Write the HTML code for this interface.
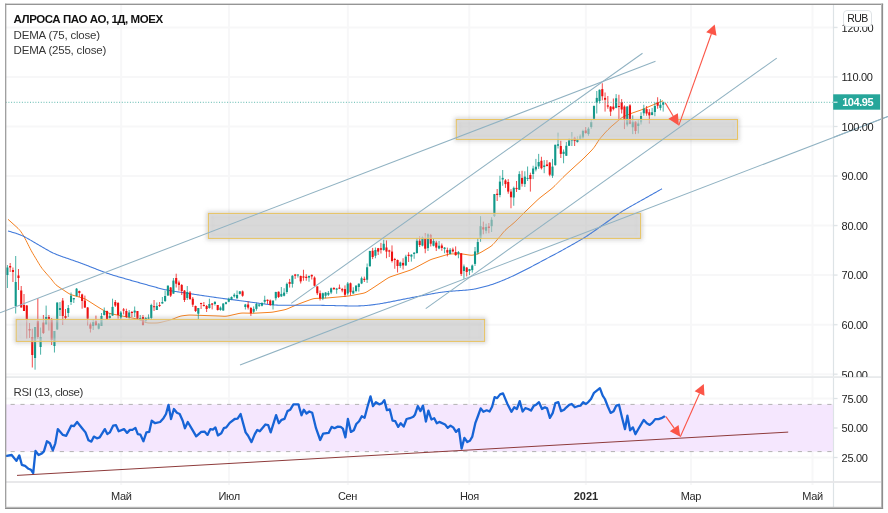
<!DOCTYPE html>
<html><head><meta charset="utf-8"><title>chart</title>
<style>
html,body{margin:0;padding:0;background:#fff;}
body{width:888px;height:513px;position:relative;overflow:hidden;font-family:"Liberation Sans",sans-serif;}
.t{position:absolute;white-space:nowrap;font-family:"Liberation Sans",sans-serif;font-size:11px;line-height:13px;color:#1c1c1c;}
.ax{letter-spacing:-0.3px;}
.tm{width:60px;text-align:center;font-size:11px;color:#2a2a2a;letter-spacing:-0.4px;}
.ttl{font-weight:bold;font-size:11.5px;color:#111;letter-spacing:-0.45px;}
.leg{font-size:11.5px;color:#363636;letter-spacing:-0.2px;}
.rub{position:absolute;left:843.3px;top:10.2px;width:26.4px;height:14.8px;border:0.8px solid #dfe3e6;border-radius:4px;background:#fff;font-family:"Liberation Sans",sans-serif;font-size:10.5px;line-height:15.6px;text-align:center;color:#222;letter-spacing:-0.55px;}
</style></head><body>
<svg width="888" height="513" viewBox="0 0 888 513" style="position:absolute;left:0;top:0">
<defs>
<clipPath id="cm"><rect x="5.7" y="4.3" width="827.8" height="373.3"/></clipPath>
<clipPath id="cr"><rect x="5.7" y="377.6" width="827.8" height="104.39999999999998"/></clipPath>
<filter id="sh" x="-5%" y="-40%" width="110%" height="180%"><feGaussianBlur stdDeviation="2.1"/></filter>
<filter id="sh2" x="-5%" y="-40%" width="110%" height="180%"><feGaussianBlur stdDeviation="0.8"/></filter>
</defs>
<rect x="0" y="0" width="888" height="513" fill="#fff"/>
<g stroke="#f7f7f8" stroke-width="2">
<line x1="5.7" x2="837.5" y1="27.4" y2="27.4"/>
<line x1="5.7" x2="837.5" y1="76.9" y2="76.9"/>
<line x1="5.7" x2="837.5" y1="126.5" y2="126.5"/>
<line x1="5.7" x2="837.5" y1="176.0" y2="176.0"/>
<line x1="5.7" x2="837.5" y1="225.6" y2="225.6"/>
<line x1="5.7" x2="837.5" y1="275.1" y2="275.1"/>
<line x1="5.7" x2="837.5" y1="324.7" y2="324.7"/>
<line x1="5.7" x2="837.5" y1="374.2" y2="374.2"/>
<line x1="5.7" x2="837.5" y1="398.5" y2="398.5"/>
<line x1="5.7" x2="837.5" y1="428.0" y2="428.0"/>
<line x1="5.7" x2="837.5" y1="457.5" y2="457.5"/>
<line x1="121.2" x2="121.2" y1="4.3" y2="485.0"/>
<line x1="229.0" x2="229.0" y1="4.3" y2="485.0"/>
<line x1="347.8" x2="347.8" y1="4.3" y2="485.0"/>
<line x1="469.3" x2="469.3" y1="4.3" y2="485.0"/>
<line x1="585.8" x2="585.8" y1="4.3" y2="485.0"/>
<line x1="690.9" x2="690.9" y1="4.3" y2="485.0"/>
<line x1="812.5" x2="812.5" y1="4.3" y2="485.0"/>
</g>
<rect x="5.7" y="404.4" width="827.8" height="47.2" fill="#f4e6fe" fill-opacity="0.94"/>
<g stroke="#b2b2b2" stroke-width="1" stroke-dasharray="4.2,5.64" stroke-dashoffset="4.98" fill="none"><line x1="5.7" x2="833.5" y1="404.4" y2="404.4"/><line x1="5.7" x2="833.5" y1="451.6" y2="451.6"/></g>
<polyline points="8.00,219.30 9.00,220.20 10.00,221.10 11.00,222.00 12.00,222.90 13.00,223.80 14.00,224.70 15.00,225.61 16.00,226.51 17.00,227.42 18.00,228.35 19.00,229.37 20.00,230.51 21.00,231.83 22.00,233.32 23.00,234.92 24.00,236.63 25.00,238.46 26.00,240.37 27.00,242.35 28.00,244.35 29.00,246.35 30.00,248.33 31.00,250.24 32.00,252.07 33.00,253.79 34.00,255.46 35.00,257.12 36.00,258.78 37.00,260.45 38.00,262.12 39.00,263.78 40.00,265.40 41.00,266.93 42.00,268.33 43.00,269.61 44.00,270.81 45.00,271.96 46.00,273.10 47.00,274.23 48.00,275.36 49.00,276.50 50.00,277.64 51.00,278.81 52.00,280.04 53.00,281.33 54.00,282.63 55.00,283.83 56.00,284.84 57.00,285.67 58.00,286.39 59.00,287.06 60.00,287.73 61.00,288.40 62.00,289.07 63.00,289.73 64.00,290.40 65.00,291.07 66.00,291.73 67.00,292.39 68.00,293.04 69.00,293.64 70.00,294.17 71.00,294.60 72.00,294.95 73.00,295.26 74.00,295.56 75.00,295.85 76.00,296.14 77.00,296.43 78.00,296.72 79.00,297.01 80.00,297.30 81.00,297.59 82.00,297.89 83.00,298.19 84.00,298.54 85.00,298.96 86.00,299.47 87.00,300.05 88.00,300.66 89.00,301.30 90.00,301.93 91.00,302.57 92.00,303.20 93.00,303.84 94.00,304.48 95.00,305.11 96.00,305.75 97.00,306.38 98.00,307.01 99.00,307.63 100.00,308.23 101.00,308.84 102.00,309.43 103.00,310.03 104.00,310.62 105.00,311.21 106.00,311.79 107.00,312.32 108.00,312.79 109.00,313.16 110.00,313.46 111.00,313.71 112.00,313.94 113.00,314.15 114.00,314.35 115.00,314.56 116.00,314.76 117.00,314.96 118.00,315.16 119.00,315.36 120.00,315.57 121.00,315.77 122.00,315.97 123.00,316.17 124.00,316.37 125.00,316.57 126.00,316.78 127.00,316.98 128.00,317.18 129.00,317.38 130.00,317.58 131.00,317.79 132.00,317.99 133.00,318.19 134.00,318.39 135.00,318.59 136.00,318.80 137.00,319.02 138.00,319.26 139.00,319.56 140.00,319.93 141.00,320.35 142.00,320.80 143.00,321.26 144.00,321.71 145.00,322.13 146.00,322.50 147.00,322.76 148.00,322.91 149.00,322.97 150.00,322.99 151.00,323.00 152.00,323.00 153.00,323.00 154.00,323.00 155.00,323.00 156.00,322.98 157.00,322.94 158.00,322.85 159.00,322.70 160.00,322.50 161.00,322.28 162.00,322.04 163.00,321.80 164.00,321.56 165.00,321.32 166.00,321.08 167.00,320.84 168.00,320.59 169.00,320.33 170.00,320.05 171.00,319.73 172.00,319.37 173.00,318.99 174.00,318.60 175.00,318.20 176.00,317.80 177.00,317.40 178.00,317.01 179.00,316.64 180.00,316.32 181.00,316.06 182.00,315.87 183.00,315.72 184.00,315.59 185.00,315.47 186.00,315.36 187.00,315.25 188.00,315.15 189.00,315.09 190.00,315.07 191.00,315.08 192.00,315.10 193.00,315.13 194.00,315.17 195.00,315.20 196.00,315.23 197.00,315.27 198.00,315.30 199.00,315.33 200.00,315.37 201.00,315.40 202.00,315.43 203.00,315.47 204.00,315.50 205.00,315.53 206.00,315.57 207.00,315.60 208.00,315.63 209.00,315.67 210.00,315.70 211.00,315.73 212.00,315.77 213.00,315.80 214.00,315.83 215.00,315.87 216.00,315.90 217.00,315.94 218.00,315.97 219.00,316.01 220.00,316.06 221.00,316.12 222.00,316.17 223.00,316.22 224.00,316.27 225.00,316.27 226.00,316.22 227.00,316.10 228.00,315.93 229.00,315.72 230.00,315.49 231.00,315.27 232.00,315.04 233.00,314.81 234.00,314.59 235.00,314.36 236.00,314.13 237.00,313.91 238.00,313.68 239.00,313.47 240.00,313.29 241.00,313.15 242.00,313.08 243.00,313.06 244.00,313.06 245.00,313.08 246.00,313.10 247.00,313.12 248.00,313.14 249.00,313.16 250.00,313.18 251.00,313.20 252.00,313.21 253.00,313.21 254.00,313.19 255.00,313.16 256.00,313.11 257.00,313.06 258.00,313.01 259.00,312.96 260.00,312.90 261.00,312.85 262.00,312.80 263.00,312.74 264.00,312.69 265.00,312.64 266.00,312.58 267.00,312.53 268.00,312.48 269.00,312.42 270.00,312.36 271.00,312.29 272.00,312.19 273.00,312.05 274.00,311.88 275.00,311.70 276.00,311.50 277.00,311.30 278.00,311.10 279.00,310.90 280.00,310.70 281.00,310.50 282.00,310.30 283.00,310.10 284.00,309.88 285.00,309.64 286.00,309.35 287.00,309.00 288.00,308.59 289.00,308.16 290.00,307.72 291.00,307.28 292.00,306.83 293.00,306.39 294.00,305.95 295.00,305.50 296.00,305.07 297.00,304.65 298.00,304.25 299.00,303.86 300.00,303.49 301.00,303.12 302.00,302.75 303.00,302.38 304.00,302.01 305.00,301.64 306.00,301.27 307.00,300.90 308.00,300.53 309.00,300.16 310.00,299.80 311.00,299.44 312.00,299.11 313.00,298.83 314.00,298.62 315.00,298.50 316.00,298.42 317.00,298.37 318.00,298.33 319.00,298.30 320.00,298.26 321.00,298.22 322.00,298.19 323.00,298.15 324.00,298.11 325.00,298.07 326.00,298.02 327.00,297.97 328.00,297.90 329.00,297.81 330.00,297.73 331.00,297.64 332.00,297.55 333.00,297.45 334.00,297.36 335.00,297.27 336.00,297.18 337.00,297.09 338.00,297.00 339.00,296.91 340.00,296.82 341.00,296.73 342.00,296.64 343.00,296.55 344.00,296.45 345.00,296.36 346.00,296.27 347.00,296.17 348.00,296.07 349.00,295.94 350.00,295.79 351.00,295.61 352.00,295.43 353.00,295.24 354.00,295.05 355.00,294.86 356.00,294.66 357.00,294.47 358.00,294.28 359.00,294.09 360.00,293.90 361.00,293.71 362.00,293.51 363.00,293.30 364.00,293.05 365.00,292.71 366.00,292.26 367.00,291.72 368.00,291.11 369.00,290.48 370.00,289.83 371.00,289.19 372.00,288.54 373.00,287.89 374.00,287.24 375.00,286.58 376.00,285.92 377.00,285.25 378.00,284.58 379.00,283.92 380.00,283.25 381.00,282.58 382.00,281.92 383.00,281.25 384.00,280.58 385.00,279.92 386.00,279.26 387.00,278.61 388.00,278.00 389.00,277.46 390.00,277.00 391.00,276.61 392.00,276.26 393.00,275.92 394.00,275.58 395.00,275.25 396.00,274.92 397.00,274.58 398.00,274.25 399.00,273.92 400.00,273.58 401.00,273.25 402.00,272.92 403.00,272.58 404.00,272.25 405.00,271.92 406.00,271.58 407.00,271.25 408.00,270.91 409.00,270.57 410.00,270.22 411.00,269.83 412.00,269.40 413.00,268.92 414.00,268.41 415.00,267.88 416.00,267.35 417.00,266.82 418.00,266.29 419.00,265.76 420.00,265.22 421.00,264.69 422.00,264.16 423.00,263.63 424.00,263.09 425.00,262.56 426.00,262.03 427.00,261.50 428.00,260.97 429.00,260.46 430.00,259.98 431.00,259.55 432.00,259.18 433.00,258.85 434.00,258.55 435.00,258.25 436.00,257.95 437.00,257.65 438.00,257.35 439.00,257.05 440.00,256.75 441.00,256.45 442.00,256.15 443.00,255.85 444.00,255.55 445.00,255.25 446.00,254.95 447.00,254.66 448.00,254.40 449.00,254.18 450.00,254.03 451.00,253.95 452.00,253.91 453.00,253.90 454.00,253.90 455.00,253.90 456.00,253.90 457.00,253.90 458.00,253.90 459.00,253.90 460.00,253.91 461.00,253.94 462.00,254.00 463.00,254.10 464.00,254.23 465.00,254.38 466.00,254.54 467.00,254.70 468.00,254.86 469.00,255.01 470.00,255.15 471.00,255.23 472.00,255.22 473.00,255.09 474.00,254.87 475.00,254.59 476.00,254.30 477.00,253.99 478.00,253.65 479.00,253.27 480.00,252.82 481.00,252.30 482.00,251.74 483.00,251.15 484.00,250.55 485.00,249.95 486.00,249.35 487.00,248.75 488.00,248.15 489.00,247.54 490.00,246.91 491.00,246.21 492.00,245.40 493.00,244.45 494.00,243.38 495.00,242.24 496.00,241.08 497.00,239.91 498.00,238.74 499.00,237.56 500.00,236.37 501.00,235.17 502.00,233.96 503.00,232.76 504.00,231.60 505.00,230.51 506.00,229.52 507.00,228.61 508.00,227.76 509.00,226.93 510.00,226.10 511.00,225.28 512.00,224.46 513.00,223.63 514.00,222.77 515.00,221.88 516.00,220.94 517.00,219.96 518.00,218.96 519.00,217.96 520.00,216.94 521.00,215.93 522.00,214.93 523.00,213.92 524.00,212.93 525.00,211.95 526.00,210.98 527.00,210.02 528.00,209.06 529.00,208.10 530.00,207.14 531.00,206.18 532.00,205.22 533.00,204.26 534.00,203.30 535.00,202.34 536.00,201.38 537.00,200.43 538.00,199.51 539.00,198.62 540.00,197.77 541.00,196.97 542.00,196.19 543.00,195.42 544.00,194.65 545.00,193.87 546.00,193.10 547.00,192.33 548.00,191.56 549.00,190.79 550.00,190.01 551.00,189.22 552.00,188.39 553.00,187.51 554.00,186.57 555.00,185.59 556.00,184.58 557.00,183.56 558.00,182.54 559.00,181.52 560.00,180.49 561.00,179.47 562.00,178.46 563.00,177.45 564.00,176.46 565.00,175.49 566.00,174.54 567.00,173.61 568.00,172.68 569.00,171.76 570.00,170.84 571.00,169.92 572.00,169.00 573.00,168.08 574.00,167.16 575.00,166.24 576.00,165.34 577.00,164.43 578.00,163.54 579.00,162.64 580.00,161.74 581.00,160.83 582.00,159.90 583.00,158.96 584.00,157.98 585.00,157.00 586.00,156.00 587.00,155.00 588.00,154.00 589.00,153.00 590.00,152.00 591.00,150.98 592.00,149.93 593.00,148.79 594.00,147.52 595.00,146.10 596.00,144.58 597.00,143.00 598.00,141.45 599.00,139.98 600.00,138.63 601.00,137.38 602.00,136.21 603.00,135.08 604.00,133.97 605.00,132.87 606.00,131.79 607.00,130.75 608.00,129.73 609.00,128.74 610.00,127.77 611.00,126.82 612.00,125.92 613.00,125.04 614.00,124.19 615.00,123.34 616.00,122.50 617.00,121.65 618.00,120.81 619.00,119.97 620.00,119.14 621.00,118.35 622.00,117.63 623.00,117.01 624.00,116.49 625.00,116.02 626.00,115.59 627.00,115.17 628.00,114.75 629.00,114.33 630.00,113.92 631.00,113.52 632.00,113.15 633.00,112.79 634.00,112.44 635.00,112.09 636.00,111.74 637.00,111.40 638.00,111.05 639.00,110.71 640.00,110.36 641.00,110.00 642.00,109.63 643.00,109.23 644.00,108.82 645.00,108.38 646.00,107.94 647.00,107.49 648.00,107.05 649.00,106.61 650.00,106.18 651.00,105.75 652.00,105.34 653.00,104.92 654.00,104.51 655.00,104.09 656.00,103.67 657.00,103.25 658.00,102.83 659.00,102.41 660.00,101.99 661.00,101.56 662.00,101.14 663.00,100.72" fill="none" stroke="#f5801f" stroke-width="1.0" stroke-linejoin="round"/>
<polyline points="8.00,231.00 9.00,231.28 10.00,231.57 11.00,231.86 12.00,232.15 13.00,232.44 14.00,232.74 15.00,233.04 16.00,233.36 17.00,233.69 18.00,234.03 19.00,234.39 20.00,234.78 21.00,235.19 22.00,235.62 23.00,236.08 24.00,236.56 25.00,237.06 26.00,237.59 27.00,238.13 28.00,238.69 29.00,239.25 30.00,239.83 31.00,240.41 32.00,241.00 33.00,241.59 34.00,242.18 35.00,242.77 36.00,243.36 37.00,243.95 38.00,244.54 39.00,245.12 40.00,245.71 41.00,246.30 42.00,246.88 43.00,247.47 44.00,248.05 45.00,248.63 46.00,249.20 47.00,249.77 48.00,250.33 49.00,250.88 50.00,251.42 51.00,251.94 52.00,252.44 53.00,252.93 54.00,253.39 55.00,253.84 56.00,254.27 57.00,254.68 58.00,255.08 59.00,255.46 60.00,255.83 61.00,256.19 62.00,256.55 63.00,256.90 64.00,257.25 65.00,257.59 66.00,257.94 67.00,258.28 68.00,258.62 69.00,258.97 70.00,259.31 71.00,259.65 72.00,260.00 73.00,260.34 74.00,260.69 75.00,261.04 76.00,261.39 77.00,261.74 78.00,262.10 79.00,262.46 80.00,262.82 81.00,263.19 82.00,263.56 83.00,263.93 84.00,264.31 85.00,264.70 86.00,265.08 87.00,265.47 88.00,265.86 89.00,266.25 90.00,266.64 91.00,267.03 92.00,267.42 93.00,267.82 94.00,268.21 95.00,268.60 96.00,268.99 97.00,269.39 98.00,269.78 99.00,270.17 100.00,270.56 101.00,270.95 102.00,271.33 103.00,271.71 104.00,272.09 105.00,272.46 106.00,272.83 107.00,273.18 108.00,273.53 109.00,273.87 110.00,274.20 111.00,274.52 112.00,274.84 113.00,275.15 114.00,275.45 115.00,275.75 116.00,276.05 117.00,276.34 118.00,276.63 119.00,276.93 120.00,277.22 121.00,277.51 122.00,277.79 123.00,278.08 124.00,278.37 125.00,278.66 126.00,278.95 127.00,279.24 128.00,279.52 129.00,279.81 130.00,280.10 131.00,280.38 132.00,280.66 133.00,280.95 134.00,281.23 135.00,281.51 136.00,281.79 137.00,282.07 138.00,282.35 139.00,282.63 140.00,282.91 141.00,283.19 142.00,283.47 143.00,283.75 144.00,284.02 145.00,284.30 146.00,284.58 147.00,284.86 148.00,285.14 149.00,285.41 150.00,285.69 151.00,285.97 152.00,286.25 153.00,286.52 154.00,286.80 155.00,287.08 156.00,287.35 157.00,287.63 158.00,287.90 159.00,288.16 160.00,288.43 161.00,288.68 162.00,288.94 163.00,289.18 164.00,289.41 165.00,289.64 166.00,289.85 167.00,290.05 168.00,290.25 169.00,290.43 170.00,290.61 171.00,290.78 172.00,290.94 173.00,291.10 174.00,291.26 175.00,291.41 176.00,291.57 177.00,291.72 178.00,291.87 179.00,292.02 180.00,292.17 181.00,292.32 182.00,292.47 183.00,292.62 184.00,292.77 185.00,292.92 186.00,293.07 187.00,293.21 188.00,293.36 189.00,293.51 190.00,293.66 191.00,293.81 192.00,293.96 193.00,294.11 194.00,294.26 195.00,294.41 196.00,294.56 197.00,294.71 198.00,294.86 199.00,295.01 200.00,295.16 201.00,295.31 202.00,295.46 203.00,295.61 204.00,295.76 205.00,295.91 206.00,296.06 207.00,296.21 208.00,296.35 209.00,296.50 210.00,296.65 211.00,296.80 212.00,296.95 213.00,297.10 214.00,297.24 215.00,297.39 216.00,297.53 217.00,297.67 218.00,297.81 219.00,297.95 220.00,298.09 221.00,298.22 222.00,298.35 223.00,298.49 224.00,298.61 225.00,298.74 226.00,298.87 227.00,299.00 228.00,299.12 229.00,299.25 230.00,299.37 231.00,299.50 232.00,299.63 233.00,299.75 234.00,299.88 235.00,300.00 236.00,300.13 237.00,300.26 238.00,300.39 239.00,300.52 240.00,300.65 241.00,300.78 242.00,300.91 243.00,301.05 244.00,301.18 245.00,301.32 246.00,301.46 247.00,301.59 248.00,301.73 249.00,301.87 250.00,302.01 251.00,302.15 252.00,302.29 253.00,302.43 254.00,302.57 255.00,302.71 256.00,302.85 257.00,302.99 258.00,303.12 259.00,303.26 260.00,303.40 261.00,303.53 262.00,303.66 263.00,303.79 264.00,303.91 265.00,304.04 266.00,304.15 267.00,304.27 268.00,304.38 269.00,304.48 270.00,304.58 271.00,304.67 272.00,304.76 273.00,304.85 274.00,304.93 275.00,305.00 276.00,305.06 277.00,305.12 278.00,305.16 279.00,305.20 280.00,305.23 281.00,305.25 282.00,305.27 283.00,305.27 284.00,305.27 285.00,305.27 286.00,305.26 287.00,305.26 288.00,305.24 289.00,305.23 290.00,305.22 291.00,305.21 292.00,305.19 293.00,305.18 294.00,305.17 295.00,305.16 296.00,305.16 297.00,305.15 298.00,305.15 299.00,305.15 300.00,305.15 301.00,305.15 302.00,305.16 303.00,305.17 304.00,305.17 305.00,305.18 306.00,305.19 307.00,305.20 308.00,305.21 309.00,305.22 310.00,305.23 311.00,305.24 312.00,305.25 313.00,305.26 314.00,305.27 315.00,305.28 316.00,305.29 317.00,305.30 318.00,305.31 319.00,305.32 320.00,305.33 321.00,305.34 322.00,305.36 323.00,305.37 324.00,305.38 325.00,305.40 326.00,305.42 327.00,305.44 328.00,305.45 329.00,305.48 330.00,305.50 331.00,305.52 332.00,305.55 333.00,305.57 334.00,305.60 335.00,305.62 336.00,305.65 337.00,305.68 338.00,305.70 339.00,305.73 340.00,305.75 341.00,305.78 342.00,305.80 343.00,305.82 344.00,305.84 345.00,305.86 346.00,305.87 347.00,305.89 348.00,305.90 349.00,305.91 350.00,305.92 351.00,305.93 352.00,305.93 353.00,305.94 354.00,305.94 355.00,305.94 356.00,305.93 357.00,305.93 358.00,305.91 359.00,305.89 360.00,305.87 361.00,305.83 362.00,305.79 363.00,305.73 364.00,305.67 365.00,305.60 366.00,305.52 367.00,305.43 368.00,305.34 369.00,305.24 370.00,305.13 371.00,305.01 372.00,304.89 373.00,304.76 374.00,304.63 375.00,304.49 376.00,304.35 377.00,304.20 378.00,304.05 379.00,303.90 380.00,303.74 381.00,303.58 382.00,303.41 383.00,303.24 384.00,303.07 385.00,302.89 386.00,302.71 387.00,302.52 388.00,302.33 389.00,302.14 390.00,301.94 391.00,301.74 392.00,301.54 393.00,301.33 394.00,301.13 395.00,300.93 396.00,300.73 397.00,300.52 398.00,300.32 399.00,300.12 400.00,299.92 401.00,299.72 402.00,299.53 403.00,299.33 404.00,299.13 405.00,298.94 406.00,298.74 407.00,298.54 408.00,298.35 409.00,298.15 410.00,297.96 411.00,297.76 412.00,297.57 413.00,297.37 414.00,297.18 415.00,296.98 416.00,296.79 417.00,296.60 418.00,296.40 419.00,296.21 420.00,296.02 421.00,295.83 422.00,295.64 423.00,295.45 424.00,295.27 425.00,295.08 426.00,294.89 427.00,294.71 428.00,294.52 429.00,294.34 430.00,294.15 431.00,293.97 432.00,293.79 433.00,293.61 434.00,293.43 435.00,293.26 436.00,293.08 437.00,292.92 438.00,292.76 439.00,292.60 440.00,292.45 441.00,292.31 442.00,292.17 443.00,292.04 444.00,291.92 445.00,291.80 446.00,291.69 447.00,291.58 448.00,291.48 449.00,291.38 450.00,291.29 451.00,291.21 452.00,291.12 453.00,291.05 454.00,290.97 455.00,290.90 456.00,290.83 457.00,290.76 458.00,290.69 459.00,290.62 460.00,290.56 461.00,290.49 462.00,290.42 463.00,290.35 464.00,290.28 465.00,290.20 466.00,290.12 467.00,290.04 468.00,289.94 469.00,289.84 470.00,289.72 471.00,289.59 472.00,289.44 473.00,289.28 474.00,289.11 475.00,288.91 476.00,288.71 477.00,288.49 478.00,288.27 479.00,288.03 480.00,287.79 481.00,287.54 482.00,287.29 483.00,287.03 484.00,286.77 485.00,286.51 486.00,286.24 487.00,285.96 488.00,285.68 489.00,285.39 490.00,285.10 491.00,284.79 492.00,284.47 493.00,284.14 494.00,283.79 495.00,283.44 496.00,283.07 497.00,282.70 498.00,282.32 499.00,281.93 500.00,281.53 501.00,281.13 502.00,280.73 503.00,280.32 504.00,279.91 505.00,279.49 506.00,279.07 507.00,278.64 508.00,278.20 509.00,277.76 510.00,277.31 511.00,276.86 512.00,276.39 513.00,275.92 514.00,275.44 515.00,274.96 516.00,274.47 517.00,273.98 518.00,273.49 519.00,272.99 520.00,272.49 521.00,272.00 522.00,271.49 523.00,270.99 524.00,270.49 525.00,269.99 526.00,269.48 527.00,268.97 528.00,268.46 529.00,267.95 530.00,267.43 531.00,266.91 532.00,266.39 533.00,265.86 534.00,265.34 535.00,264.81 536.00,264.28 537.00,263.74 538.00,263.21 539.00,262.68 540.00,262.14 541.00,261.61 542.00,261.07 543.00,260.54 544.00,260.01 545.00,259.47 546.00,258.94 547.00,258.41 548.00,257.89 549.00,257.36 550.00,256.83 551.00,256.31 552.00,255.78 553.00,255.26 554.00,254.73 555.00,254.20 556.00,253.66 557.00,253.13 558.00,252.59 559.00,252.04 560.00,251.50 561.00,250.95 562.00,250.39 563.00,249.84 564.00,249.28 565.00,248.72 566.00,248.16 567.00,247.60 568.00,247.04 569.00,246.48 570.00,245.92 571.00,245.36 572.00,244.79 573.00,244.23 574.00,243.67 575.00,243.11 576.00,242.54 577.00,241.97 578.00,241.40 579.00,240.83 580.00,240.25 581.00,239.66 582.00,239.07 583.00,238.46 584.00,237.85 585.00,237.22 586.00,236.59 587.00,235.94 588.00,235.28 589.00,234.62 590.00,233.94 591.00,233.26 592.00,232.57 593.00,231.88 594.00,231.19 595.00,230.49 596.00,229.79 597.00,229.08 598.00,228.38 599.00,227.68 600.00,226.97 601.00,226.26 602.00,225.55 603.00,224.84 604.00,224.13 605.00,223.41 606.00,222.70 607.00,221.99 608.00,221.27 609.00,220.56 610.00,219.84 611.00,219.13 612.00,218.42 613.00,217.70 614.00,216.99 615.00,216.29 616.00,215.59 617.00,214.89 618.00,214.21 619.00,213.53 620.00,212.86 621.00,212.20 622.00,211.56 623.00,210.93 624.00,210.31 625.00,209.70 626.00,209.10 627.00,208.51 628.00,207.93 629.00,207.36 630.00,206.78 631.00,206.22 632.00,205.65 633.00,205.09 634.00,204.53 635.00,203.97 636.00,203.41 637.00,202.85 638.00,202.28 639.00,201.72 640.00,201.16 641.00,200.60 642.00,200.04 643.00,199.48 644.00,198.92 645.00,198.36 646.00,197.80 647.00,197.24 648.00,196.68 649.00,196.12 650.00,195.55 651.00,194.99 652.00,194.43 653.00,193.86 654.00,193.30 655.00,192.74 656.00,192.17 657.00,191.61 658.00,191.04 659.00,190.48 660.00,189.91 661.00,189.35 662.00,188.78" fill="none" stroke="#4079da" stroke-width="1.05" stroke-linejoin="round"/>
<g clip-path="url(#cm)">
<line x1="7.40" x2="7.40" y1="265.0" y2="288.0" stroke="#11988a" stroke-width="0.9" stroke-opacity="0.85"/>
<rect x="6.35" y="267.5" width="2.1" height="7.50" fill="#11988a"/>
<line x1="10.17" x2="10.17" y1="263.0" y2="272.0" stroke="#ee1111" stroke-width="0.9" stroke-opacity="0.85"/>
<rect x="9.12" y="266.0" width="2.1" height="1.50" fill="#ee1111"/>
<line x1="12.93" x2="12.93" y1="267.5" y2="282.0" stroke="#ee1111" stroke-width="0.9" stroke-opacity="0.85"/>
<rect x="11.88" y="270.0" width="2.1" height="2.00" fill="#ee1111"/>
<line x1="15.70" x2="15.70" y1="256.0" y2="313.5" stroke="#11988a" stroke-width="0.9" stroke-opacity="0.85"/>
<rect x="14.65" y="282.0" width="2.1" height="24.00" fill="#11988a"/>
<line x1="18.47" x2="18.47" y1="269.0" y2="290.0" stroke="#ee1111" stroke-width="0.9" stroke-opacity="0.85"/>
<rect x="17.42" y="275.5" width="2.1" height="2.50" fill="#ee1111"/>
<line x1="21.23" x2="21.23" y1="286.0" y2="307.5" stroke="#ee1111" stroke-width="0.9" stroke-opacity="0.85"/>
<rect x="20.18" y="290.5" width="2.1" height="17.00" fill="#ee1111"/>
<line x1="24.00" x2="24.00" y1="294.0" y2="311.0" stroke="#ee1111" stroke-width="0.9" stroke-opacity="0.85"/>
<rect x="22.95" y="305.0" width="2.1" height="6.00" fill="#ee1111"/>
<line x1="26.77" x2="26.77" y1="305.0" y2="338.7" stroke="#ee1111" stroke-width="0.9" stroke-opacity="0.85"/>
<rect x="25.72" y="305.5" width="2.1" height="14.00" fill="#ee1111"/>
<line x1="29.54" x2="29.54" y1="323.0" y2="338.0" stroke="#ee1111" stroke-width="0.9" stroke-opacity="0.85"/>
<rect x="28.49" y="329.0" width="2.1" height="1.50" fill="#ee1111"/>
<line x1="32.30" x2="32.30" y1="328.7" y2="367.5" stroke="#ee1111" stroke-width="0.9" stroke-opacity="0.85"/>
<rect x="31.25" y="337.0" width="2.1" height="18.00" fill="#ee1111"/>
<line x1="35.07" x2="35.07" y1="327.0" y2="369.7" stroke="#11988a" stroke-width="0.9" stroke-opacity="0.85"/>
<rect x="34.02" y="327.0" width="2.1" height="31.00" fill="#11988a"/>
<line x1="37.84" x2="37.84" y1="298.0" y2="339.0" stroke="#ee1111" stroke-width="0.9" stroke-opacity="0.85"/>
<rect x="36.79" y="321.0" width="2.1" height="16.00" fill="#ee1111"/>
<line x1="40.60" x2="40.60" y1="327.5" y2="354.7" stroke="#11988a" stroke-width="0.9" stroke-opacity="0.85"/>
<rect x="39.55" y="337.0" width="2.1" height="10.00" fill="#11988a"/>
<line x1="43.37" x2="43.37" y1="315.0" y2="334.0" stroke="#ee1111" stroke-width="0.9" stroke-opacity="0.85"/>
<rect x="42.32" y="322.5" width="2.1" height="10.50" fill="#ee1111"/>
<line x1="46.14" x2="46.14" y1="305.6" y2="324.4" stroke="#11988a" stroke-width="0.9" stroke-opacity="0.85"/>
<rect x="45.09" y="317.0" width="2.1" height="7.40" fill="#11988a"/>
<line x1="48.90" x2="48.90" y1="315.0" y2="330.6" stroke="#ee1111" stroke-width="0.9" stroke-opacity="0.85"/>
<rect x="47.85" y="317.0" width="2.1" height="2.40" fill="#ee1111"/>
<line x1="51.67" x2="51.67" y1="318.0" y2="345.0" stroke="#ee1111" stroke-width="0.9" stroke-opacity="0.85"/>
<rect x="50.62" y="319.4" width="2.1" height="20.60" fill="#ee1111"/>
<line x1="54.44" x2="54.44" y1="331.0" y2="352.5" stroke="#11988a" stroke-width="0.9" stroke-opacity="0.85"/>
<rect x="53.39" y="331.0" width="2.1" height="15.00" fill="#11988a"/>
<line x1="57.21" x2="57.21" y1="302.5" y2="330.0" stroke="#11988a" stroke-width="0.9" stroke-opacity="0.85"/>
<rect x="56.16" y="302.5" width="2.1" height="26.90" fill="#11988a"/>
<line x1="59.97" x2="59.97" y1="302.0" y2="316.0" stroke="#11988a" stroke-width="0.9" stroke-opacity="0.85"/>
<rect x="58.92" y="308.0" width="2.1" height="2.00" fill="#11988a"/>
<line x1="62.74" x2="62.74" y1="298.0" y2="325.0" stroke="#ee1111" stroke-width="0.9" stroke-opacity="0.85"/>
<rect x="61.69" y="300.6" width="2.1" height="15.40" fill="#ee1111"/>
<line x1="65.51" x2="65.51" y1="309.0" y2="319.0" stroke="#ee1111" stroke-width="0.9" stroke-opacity="0.85"/>
<rect x="64.46" y="316.0" width="2.1" height="2.00" fill="#ee1111"/>
<line x1="68.27" x2="68.27" y1="305.0" y2="317.0" stroke="#11988a" stroke-width="0.9" stroke-opacity="0.85"/>
<rect x="67.22" y="308.0" width="2.1" height="5.00" fill="#11988a"/>
<line x1="71.04" x2="71.04" y1="292.5" y2="305.0" stroke="#11988a" stroke-width="0.9" stroke-opacity="0.85"/>
<rect x="69.99" y="295.6" width="2.1" height="6.40" fill="#11988a"/>
<line x1="73.81" x2="73.81" y1="298.0" y2="303.0" stroke="#11988a" stroke-width="0.9" stroke-opacity="0.85"/>
<rect x="72.76" y="298.0" width="2.1" height="1.40" fill="#11988a"/>
<line x1="76.58" x2="76.58" y1="288.0" y2="296.5" stroke="#11988a" stroke-width="0.9" stroke-opacity="0.85"/>
<rect x="75.53" y="288.7" width="2.1" height="7.30" fill="#11988a"/>
<line x1="79.34" x2="79.34" y1="290.6" y2="297.0" stroke="#ee1111" stroke-width="0.9" stroke-opacity="0.85"/>
<rect x="78.29" y="291.0" width="2.1" height="2.00" fill="#ee1111"/>
<line x1="82.11" x2="82.11" y1="293.7" y2="308.7" stroke="#ee1111" stroke-width="0.9" stroke-opacity="0.85"/>
<rect x="81.06" y="294.4" width="2.1" height="6.60" fill="#ee1111"/>
<line x1="84.88" x2="84.88" y1="295.6" y2="308.0" stroke="#ee1111" stroke-width="0.9" stroke-opacity="0.85"/>
<rect x="83.83" y="300.6" width="2.1" height="6.90" fill="#ee1111"/>
<line x1="87.64" x2="87.64" y1="307.0" y2="325.6" stroke="#ee1111" stroke-width="0.9" stroke-opacity="0.85"/>
<rect x="86.59" y="307.5" width="2.1" height="11.20" fill="#ee1111"/>
<line x1="90.41" x2="90.41" y1="322.5" y2="332.5" stroke="#ee1111" stroke-width="0.9" stroke-opacity="0.85"/>
<rect x="89.36" y="324.4" width="2.1" height="4.30" fill="#ee1111"/>
<line x1="93.18" x2="93.18" y1="319.0" y2="330.0" stroke="#11988a" stroke-width="0.9" stroke-opacity="0.85"/>
<rect x="92.13" y="322.0" width="2.1" height="4.00" fill="#11988a"/>
<line x1="95.94" x2="95.94" y1="315.6" y2="326.0" stroke="#ee1111" stroke-width="0.9" stroke-opacity="0.85"/>
<rect x="94.89" y="321.0" width="2.1" height="4.00" fill="#ee1111"/>
<line x1="98.71" x2="98.71" y1="323.0" y2="329.4" stroke="#11988a" stroke-width="0.9" stroke-opacity="0.85"/>
<rect x="97.66" y="323.7" width="2.1" height="5.00" fill="#11988a"/>
<line x1="101.48" x2="101.48" y1="313.0" y2="326.0" stroke="#11988a" stroke-width="0.9" stroke-opacity="0.85"/>
<rect x="100.43" y="316.0" width="2.1" height="10.00" fill="#11988a"/>
<line x1="104.25" x2="104.25" y1="307.5" y2="315.5" stroke="#11988a" stroke-width="0.9" stroke-opacity="0.85"/>
<rect x="103.20" y="310.6" width="2.1" height="4.40" fill="#11988a"/>
<line x1="107.01" x2="107.01" y1="310.6" y2="320.0" stroke="#ee1111" stroke-width="0.9" stroke-opacity="0.85"/>
<rect x="105.96" y="311.0" width="2.1" height="8.40" fill="#ee1111"/>
<line x1="109.78" x2="109.78" y1="313.0" y2="318.7" stroke="#11988a" stroke-width="0.9" stroke-opacity="0.85"/>
<rect x="108.73" y="316.0" width="2.1" height="2.00" fill="#11988a"/>
<line x1="112.55" x2="112.55" y1="298.7" y2="316.0" stroke="#11988a" stroke-width="0.9" stroke-opacity="0.85"/>
<rect x="111.50" y="306.9" width="2.1" height="8.70" fill="#11988a"/>
<line x1="115.31" x2="115.31" y1="300.0" y2="307.0" stroke="#ee1111" stroke-width="0.9" stroke-opacity="0.85"/>
<rect x="114.26" y="302.0" width="2.1" height="3.60" fill="#ee1111"/>
<line x1="118.08" x2="118.08" y1="302.0" y2="318.7" stroke="#ee1111" stroke-width="0.9" stroke-opacity="0.85"/>
<rect x="117.03" y="303.0" width="2.1" height="12.00" fill="#ee1111"/>
<line x1="120.85" x2="120.85" y1="311.0" y2="320.0" stroke="#11988a" stroke-width="0.9" stroke-opacity="0.85"/>
<rect x="119.80" y="312.5" width="2.1" height="5.00" fill="#11988a"/>
<line x1="123.61" x2="123.61" y1="308.0" y2="314.4" stroke="#ee1111" stroke-width="0.9" stroke-opacity="0.85"/>
<rect x="122.56" y="309.4" width="2.1" height="1.20" fill="#ee1111"/>
<line x1="126.38" x2="126.38" y1="308.7" y2="318.0" stroke="#ee1111" stroke-width="0.9" stroke-opacity="0.85"/>
<rect x="125.33" y="311.0" width="2.1" height="6.00" fill="#ee1111"/>
<line x1="129.15" x2="129.15" y1="310.0" y2="318.7" stroke="#11988a" stroke-width="0.9" stroke-opacity="0.85"/>
<rect x="128.10" y="312.5" width="2.1" height="4.50" fill="#11988a"/>
<line x1="131.91" x2="131.91" y1="311.0" y2="317.0" stroke="#ee1111" stroke-width="0.9" stroke-opacity="0.85"/>
<rect x="130.86" y="312.0" width="2.1" height="1.00" fill="#ee1111"/>
<line x1="134.68" x2="134.68" y1="306.5" y2="317.0" stroke="#11988a" stroke-width="0.9" stroke-opacity="0.85"/>
<rect x="133.63" y="310.6" width="2.1" height="1.90" fill="#11988a"/>
<line x1="137.45" x2="137.45" y1="311.0" y2="319.4" stroke="#ee1111" stroke-width="0.9" stroke-opacity="0.85"/>
<rect x="136.40" y="311.0" width="2.1" height="7.70" fill="#ee1111"/>
<line x1="140.22" x2="140.22" y1="315.0" y2="320.6" stroke="#11988a" stroke-width="0.9" stroke-opacity="0.85"/>
<rect x="139.17" y="318.0" width="2.1" height="2.00" fill="#11988a"/>
<line x1="142.98" x2="142.98" y1="315.0" y2="325.6" stroke="#ee1111" stroke-width="0.9" stroke-opacity="0.85"/>
<rect x="141.93" y="317.0" width="2.1" height="8.00" fill="#ee1111"/>
<line x1="145.75" x2="145.75" y1="317.0" y2="322.5" stroke="#11988a" stroke-width="0.9" stroke-opacity="0.85"/>
<rect x="144.70" y="318.0" width="2.1" height="3.00" fill="#11988a"/>
<line x1="148.52" x2="148.52" y1="314.4" y2="319.4" stroke="#11988a" stroke-width="0.9" stroke-opacity="0.85"/>
<rect x="147.47" y="317.5" width="2.1" height="1.20" fill="#11988a"/>
<line x1="151.28" x2="151.28" y1="303.7" y2="320.0" stroke="#11988a" stroke-width="0.9" stroke-opacity="0.85"/>
<rect x="150.23" y="305.0" width="2.1" height="13.00" fill="#11988a"/>
<line x1="154.05" x2="154.05" y1="300.0" y2="311.0" stroke="#ee1111" stroke-width="0.9" stroke-opacity="0.85"/>
<rect x="153.00" y="306.2" width="2.1" height="1.00" fill="#ee1111"/>
<line x1="156.82" x2="156.82" y1="302.5" y2="310.0" stroke="#11988a" stroke-width="0.9" stroke-opacity="0.85"/>
<rect x="155.77" y="306.0" width="2.1" height="4.00" fill="#11988a"/>
<line x1="159.59" x2="159.59" y1="302.0" y2="307.0" stroke="#ee1111" stroke-width="0.9" stroke-opacity="0.85"/>
<rect x="158.53" y="305.0" width="2.1" height="1.00" fill="#ee1111"/>
<line x1="162.35" x2="162.35" y1="297.0" y2="303.7" stroke="#11988a" stroke-width="0.9" stroke-opacity="0.85"/>
<rect x="161.30" y="302.0" width="2.1" height="1.50" fill="#11988a"/>
<line x1="165.12" x2="165.12" y1="290.6" y2="302.0" stroke="#11988a" stroke-width="0.9" stroke-opacity="0.85"/>
<rect x="164.07" y="296.0" width="2.1" height="5.00" fill="#11988a"/>
<line x1="167.89" x2="167.89" y1="285.6" y2="295.6" stroke="#11988a" stroke-width="0.9" stroke-opacity="0.85"/>
<rect x="166.84" y="285.6" width="2.1" height="10.00" fill="#11988a"/>
<line x1="170.65" x2="170.65" y1="287.0" y2="297.0" stroke="#ee1111" stroke-width="0.9" stroke-opacity="0.85"/>
<rect x="169.60" y="287.5" width="2.1" height="8.10" fill="#ee1111"/>
<line x1="173.42" x2="173.42" y1="278.0" y2="293.7" stroke="#11988a" stroke-width="0.9" stroke-opacity="0.85"/>
<rect x="172.37" y="280.6" width="2.1" height="13.10" fill="#11988a"/>
<line x1="176.19" x2="176.19" y1="273.7" y2="287.5" stroke="#ee1111" stroke-width="0.9" stroke-opacity="0.85"/>
<rect x="175.14" y="278.0" width="2.1" height="5.70" fill="#ee1111"/>
<line x1="178.95" x2="178.95" y1="280.6" y2="290.6" stroke="#ee1111" stroke-width="0.9" stroke-opacity="0.85"/>
<rect x="177.90" y="282.5" width="2.1" height="2.50" fill="#ee1111"/>
<line x1="181.72" x2="181.72" y1="284.0" y2="295.0" stroke="#ee1111" stroke-width="0.9" stroke-opacity="0.85"/>
<rect x="180.67" y="285.0" width="2.1" height="6.00" fill="#ee1111"/>
<line x1="184.49" x2="184.49" y1="290.0" y2="302.0" stroke="#ee1111" stroke-width="0.9" stroke-opacity="0.85"/>
<rect x="183.44" y="290.6" width="2.1" height="9.40" fill="#ee1111"/>
<line x1="187.25" x2="187.25" y1="286.0" y2="300.0" stroke="#11988a" stroke-width="0.9" stroke-opacity="0.85"/>
<rect x="186.20" y="292.0" width="2.1" height="6.00" fill="#11988a"/>
<line x1="190.02" x2="190.02" y1="291.0" y2="300.0" stroke="#ee1111" stroke-width="0.9" stroke-opacity="0.85"/>
<rect x="188.97" y="292.5" width="2.1" height="6.50" fill="#ee1111"/>
<line x1="192.79" x2="192.79" y1="297.0" y2="307.0" stroke="#ee1111" stroke-width="0.9" stroke-opacity="0.85"/>
<rect x="191.74" y="298.7" width="2.1" height="6.00" fill="#ee1111"/>
<line x1="195.56" x2="195.56" y1="305.6" y2="312.0" stroke="#ee1111" stroke-width="0.9" stroke-opacity="0.85"/>
<rect x="194.51" y="306.0" width="2.1" height="5.00" fill="#ee1111"/>
<line x1="198.32" x2="198.32" y1="308.0" y2="319.0" stroke="#11988a" stroke-width="0.9" stroke-opacity="0.85"/>
<rect x="197.27" y="308.0" width="2.1" height="5.70" fill="#11988a"/>
<line x1="201.09" x2="201.09" y1="302.7" y2="309.0" stroke="#ee1111" stroke-width="0.9" stroke-opacity="0.85"/>
<rect x="200.04" y="303.0" width="2.1" height="1.00" fill="#ee1111"/>
<line x1="203.86" x2="203.86" y1="302.0" y2="306.5" stroke="#ee1111" stroke-width="0.9" stroke-opacity="0.85"/>
<rect x="202.81" y="305.0" width="2.1" height="1.00" fill="#ee1111"/>
<line x1="206.62" x2="206.62" y1="305.0" y2="312.0" stroke="#ee1111" stroke-width="0.9" stroke-opacity="0.85"/>
<rect x="205.57" y="306.0" width="2.1" height="3.00" fill="#ee1111"/>
<line x1="209.39" x2="209.39" y1="298.7" y2="308.7" stroke="#11988a" stroke-width="0.9" stroke-opacity="0.85"/>
<rect x="208.34" y="304.0" width="2.1" height="4.00" fill="#11988a"/>
<line x1="212.16" x2="212.16" y1="303.0" y2="309.4" stroke="#ee1111" stroke-width="0.9" stroke-opacity="0.85"/>
<rect x="211.11" y="303.5" width="2.1" height="1.20" fill="#ee1111"/>
<line x1="214.93" x2="214.93" y1="301.0" y2="305.6" stroke="#11988a" stroke-width="0.9" stroke-opacity="0.85"/>
<rect x="213.88" y="302.0" width="2.1" height="2.00" fill="#11988a"/>
<line x1="217.69" x2="217.69" y1="305.0" y2="310.6" stroke="#ee1111" stroke-width="0.9" stroke-opacity="0.85"/>
<rect x="216.64" y="305.0" width="2.1" height="5.00" fill="#ee1111"/>
<line x1="220.46" x2="220.46" y1="306.4" y2="310.75" stroke="#11988a" stroke-width="0.9" stroke-opacity="0.85"/>
<rect x="219.41" y="307.6" width="2.1" height="2.40" fill="#11988a"/>
<line x1="223.23" x2="223.23" y1="303.25" y2="310.75" stroke="#11988a" stroke-width="0.9" stroke-opacity="0.85"/>
<rect x="222.18" y="303.5" width="2.1" height="7.00" fill="#11988a"/>
<line x1="225.99" x2="225.99" y1="301.75" y2="304.5" stroke="#11988a" stroke-width="0.9" stroke-opacity="0.85"/>
<rect x="224.94" y="302.25" width="2.1" height="1.65" fill="#11988a"/>
<line x1="228.76" x2="228.76" y1="297.6" y2="302.25" stroke="#11988a" stroke-width="0.9" stroke-opacity="0.85"/>
<rect x="227.71" y="298.9" width="2.1" height="2.85" fill="#11988a"/>
<line x1="231.53" x2="231.53" y1="296.4" y2="300.1" stroke="#11988a" stroke-width="0.9" stroke-opacity="0.85"/>
<rect x="230.48" y="297.0" width="2.1" height="2.50" fill="#11988a"/>
<line x1="234.29" x2="234.29" y1="293.25" y2="297.6" stroke="#11988a" stroke-width="0.9" stroke-opacity="0.85"/>
<rect x="233.24" y="294.75" width="2.1" height="1.65" fill="#11988a"/>
<line x1="237.06" x2="237.06" y1="290.5" y2="298.9" stroke="#11988a" stroke-width="0.9" stroke-opacity="0.85"/>
<rect x="236.01" y="295.0" width="2.1" height="3.25" fill="#11988a"/>
<line x1="239.83" x2="239.83" y1="291.0" y2="294.5" stroke="#11988a" stroke-width="0.9" stroke-opacity="0.85"/>
<rect x="238.78" y="291.4" width="2.1" height="2.50" fill="#11988a"/>
<line x1="242.59" x2="242.59" y1="290.5" y2="296.75" stroke="#ee1111" stroke-width="0.9" stroke-opacity="0.85"/>
<rect x="241.54" y="291.4" width="2.1" height="4.35" fill="#ee1111"/>
<line x1="245.36" x2="245.36" y1="303.9" y2="309.5" stroke="#11988a" stroke-width="0.9" stroke-opacity="0.85"/>
<rect x="244.31" y="304.5" width="2.1" height="2.50" fill="#11988a"/>
<line x1="248.13" x2="248.13" y1="301.4" y2="309.5" stroke="#ee1111" stroke-width="0.9" stroke-opacity="0.85"/>
<rect x="247.08" y="304.5" width="2.1" height="3.10" fill="#ee1111"/>
<line x1="250.90" x2="250.90" y1="307.0" y2="316.0" stroke="#ee1111" stroke-width="0.9" stroke-opacity="0.85"/>
<rect x="249.85" y="308.0" width="2.1" height="5.25" fill="#ee1111"/>
<line x1="253.66" x2="253.66" y1="306.4" y2="313.25" stroke="#11988a" stroke-width="0.9" stroke-opacity="0.85"/>
<rect x="252.61" y="308.9" width="2.1" height="2.85" fill="#11988a"/>
<line x1="256.43" x2="256.43" y1="302.6" y2="310.75" stroke="#11988a" stroke-width="0.9" stroke-opacity="0.85"/>
<rect x="255.38" y="303.9" width="2.1" height="5.00" fill="#11988a"/>
<line x1="259.20" x2="259.20" y1="303.9" y2="307.0" stroke="#11988a" stroke-width="0.9" stroke-opacity="0.85"/>
<rect x="258.15" y="304.5" width="2.1" height="1.25" fill="#11988a"/>
<line x1="261.96" x2="261.96" y1="302.25" y2="306.4" stroke="#11988a" stroke-width="0.9" stroke-opacity="0.85"/>
<rect x="260.91" y="303.0" width="2.1" height="2.75" fill="#11988a"/>
<line x1="264.73" x2="264.73" y1="295.75" y2="303.9" stroke="#11988a" stroke-width="0.9" stroke-opacity="0.85"/>
<rect x="263.68" y="299.9" width="2.1" height="1.85" fill="#11988a"/>
<line x1="267.50" x2="267.50" y1="299.5" y2="303.9" stroke="#ee1111" stroke-width="0.9" stroke-opacity="0.85"/>
<rect x="266.45" y="299.75" width="2.1" height="1.25" fill="#ee1111"/>
<line x1="270.26" x2="270.26" y1="299.5" y2="305.75" stroke="#ee1111" stroke-width="0.9" stroke-opacity="0.85"/>
<rect x="269.21" y="300.5" width="2.1" height="4.60" fill="#ee1111"/>
<line x1="273.03" x2="273.03" y1="300.0" y2="309.5" stroke="#11988a" stroke-width="0.9" stroke-opacity="0.85"/>
<rect x="271.98" y="300.75" width="2.1" height="4.35" fill="#11988a"/>
<line x1="275.80" x2="275.80" y1="291.75" y2="300.5" stroke="#11988a" stroke-width="0.9" stroke-opacity="0.85"/>
<rect x="274.75" y="292.0" width="2.1" height="6.25" fill="#11988a"/>
<line x1="278.57" x2="278.57" y1="291.4" y2="298.0" stroke="#ee1111" stroke-width="0.9" stroke-opacity="0.85"/>
<rect x="277.52" y="291.75" width="2.1" height="5.25" fill="#ee1111"/>
<line x1="281.33" x2="281.33" y1="287.0" y2="297.0" stroke="#11988a" stroke-width="0.9" stroke-opacity="0.85"/>
<rect x="280.28" y="293.9" width="2.1" height="2.50" fill="#11988a"/>
<line x1="284.10" x2="284.10" y1="288.25" y2="296.4" stroke="#11988a" stroke-width="0.9" stroke-opacity="0.85"/>
<rect x="283.05" y="292.6" width="2.1" height="3.15" fill="#11988a"/>
<line x1="286.87" x2="286.87" y1="282.6" y2="293.9" stroke="#11988a" stroke-width="0.9" stroke-opacity="0.85"/>
<rect x="285.82" y="283.9" width="2.1" height="8.10" fill="#11988a"/>
<line x1="289.63" x2="289.63" y1="278.9" y2="287.6" stroke="#ee1111" stroke-width="0.9" stroke-opacity="0.85"/>
<rect x="288.58" y="282.0" width="2.1" height="1.90" fill="#ee1111"/>
<line x1="292.40" x2="292.40" y1="275.1" y2="287.6" stroke="#11988a" stroke-width="0.9" stroke-opacity="0.85"/>
<rect x="291.35" y="275.75" width="2.1" height="8.15" fill="#11988a"/>
<line x1="295.17" x2="295.17" y1="273.9" y2="278.9" stroke="#ee1111" stroke-width="0.9" stroke-opacity="0.85"/>
<rect x="294.12" y="274.5" width="2.1" height="1.25" fill="#ee1111"/>
<line x1="297.93" x2="297.93" y1="274.5" y2="277.6" stroke="#11988a" stroke-width="0.9" stroke-opacity="0.85"/>
<rect x="296.88" y="274.5" width="2.1" height="1.00" fill="#11988a"/>
<line x1="300.70" x2="300.70" y1="275.5" y2="283.5" stroke="#ee1111" stroke-width="0.9" stroke-opacity="0.85"/>
<rect x="299.65" y="276.0" width="2.1" height="5.40" fill="#ee1111"/>
<line x1="303.47" x2="303.47" y1="269.75" y2="280.75" stroke="#ee1111" stroke-width="0.9" stroke-opacity="0.85"/>
<rect x="302.42" y="276.4" width="2.1" height="1.20" fill="#ee1111"/>
<line x1="306.24" x2="306.24" y1="274.25" y2="280.75" stroke="#ee1111" stroke-width="0.9" stroke-opacity="0.85"/>
<rect x="305.19" y="276.75" width="2.1" height="1.25" fill="#ee1111"/>
<line x1="309.00" x2="309.00" y1="275.5" y2="281.75" stroke="#11988a" stroke-width="0.9" stroke-opacity="0.85"/>
<rect x="307.95" y="276.0" width="2.1" height="1.60" fill="#11988a"/>
<line x1="311.77" x2="311.77" y1="274.5" y2="279.5" stroke="#ee1111" stroke-width="0.9" stroke-opacity="0.85"/>
<rect x="310.72" y="274.9" width="2.1" height="1.50" fill="#ee1111"/>
<line x1="314.54" x2="314.54" y1="276.4" y2="286.4" stroke="#ee1111" stroke-width="0.9" stroke-opacity="0.85"/>
<rect x="313.49" y="277.6" width="2.1" height="8.15" fill="#ee1111"/>
<line x1="317.30" x2="317.30" y1="286.4" y2="295.1" stroke="#ee1111" stroke-width="0.9" stroke-opacity="0.85"/>
<rect x="316.25" y="286.4" width="2.1" height="6.85" fill="#ee1111"/>
<line x1="320.07" x2="320.07" y1="290.5" y2="300.5" stroke="#ee1111" stroke-width="0.9" stroke-opacity="0.85"/>
<rect x="319.02" y="293.25" width="2.1" height="5.25" fill="#ee1111"/>
<line x1="322.84" x2="322.84" y1="292.6" y2="300.1" stroke="#11988a" stroke-width="0.9" stroke-opacity="0.85"/>
<rect x="321.79" y="293.25" width="2.1" height="5.25" fill="#11988a"/>
<line x1="325.60" x2="325.60" y1="292.0" y2="298.25" stroke="#11988a" stroke-width="0.9" stroke-opacity="0.85"/>
<rect x="324.55" y="292.6" width="2.1" height="3.15" fill="#11988a"/>
<line x1="328.37" x2="328.37" y1="291.0" y2="296.0" stroke="#11988a" stroke-width="0.9" stroke-opacity="0.85"/>
<rect x="327.32" y="292.9" width="2.1" height="1.85" fill="#11988a"/>
<line x1="331.14" x2="331.14" y1="287.5" y2="294.1" stroke="#11988a" stroke-width="0.9" stroke-opacity="0.85"/>
<rect x="330.09" y="288.25" width="2.1" height="4.25" fill="#11988a"/>
<line x1="333.91" x2="333.91" y1="287.25" y2="290.0" stroke="#ee1111" stroke-width="0.9" stroke-opacity="0.85"/>
<rect x="332.86" y="287.9" width="2.1" height="1.20" fill="#ee1111"/>
<line x1="336.67" x2="336.67" y1="287.9" y2="293.75" stroke="#11988a" stroke-width="0.9" stroke-opacity="0.85"/>
<rect x="335.62" y="288.5" width="2.1" height="1.25" fill="#11988a"/>
<line x1="339.44" x2="339.44" y1="284.5" y2="289.1" stroke="#ee1111" stroke-width="0.9" stroke-opacity="0.85"/>
<rect x="338.39" y="287.6" width="2.1" height="1.15" fill="#ee1111"/>
<line x1="342.21" x2="342.21" y1="287.9" y2="292.25" stroke="#ee1111" stroke-width="0.9" stroke-opacity="0.85"/>
<rect x="341.16" y="289.1" width="2.1" height="1.30" fill="#ee1111"/>
<line x1="344.97" x2="344.97" y1="285.4" y2="297.0" stroke="#ee1111" stroke-width="0.9" stroke-opacity="0.85"/>
<rect x="343.92" y="289.1" width="2.1" height="5.65" fill="#ee1111"/>
<line x1="347.74" x2="347.74" y1="282.0" y2="295.4" stroke="#11988a" stroke-width="0.9" stroke-opacity="0.85"/>
<rect x="346.69" y="283.5" width="2.1" height="10.00" fill="#11988a"/>
<line x1="350.51" x2="350.51" y1="282.5" y2="295.4" stroke="#ee1111" stroke-width="0.9" stroke-opacity="0.85"/>
<rect x="349.46" y="283.25" width="2.1" height="9.00" fill="#ee1111"/>
<line x1="353.27" x2="353.27" y1="287.25" y2="293.75" stroke="#11988a" stroke-width="0.9" stroke-opacity="0.85"/>
<rect x="352.22" y="290.75" width="2.1" height="2.75" fill="#11988a"/>
<line x1="356.04" x2="356.04" y1="285.0" y2="292.25" stroke="#11988a" stroke-width="0.9" stroke-opacity="0.85"/>
<rect x="354.99" y="285.75" width="2.1" height="5.25" fill="#11988a"/>
<line x1="358.81" x2="358.81" y1="283.25" y2="291.6" stroke="#11988a" stroke-width="0.9" stroke-opacity="0.85"/>
<rect x="357.76" y="283.75" width="2.1" height="3.25" fill="#11988a"/>
<line x1="361.58" x2="361.58" y1="276.6" y2="284.1" stroke="#11988a" stroke-width="0.9" stroke-opacity="0.85"/>
<rect x="360.53" y="278.25" width="2.1" height="5.25" fill="#11988a"/>
<line x1="364.34" x2="364.34" y1="276.6" y2="282.0" stroke="#ee1111" stroke-width="0.9" stroke-opacity="0.85"/>
<rect x="363.29" y="278.75" width="2.1" height="1.25" fill="#ee1111"/>
<line x1="367.11" x2="367.11" y1="263.5" y2="282.9" stroke="#11988a" stroke-width="0.9" stroke-opacity="0.85"/>
<rect x="366.06" y="267.25" width="2.1" height="12.50" fill="#11988a"/>
<line x1="369.88" x2="369.88" y1="250.75" y2="266.6" stroke="#11988a" stroke-width="0.9" stroke-opacity="0.85"/>
<rect x="368.83" y="251.0" width="2.1" height="15.25" fill="#11988a"/>
<line x1="372.64" x2="372.64" y1="247.9" y2="259.1" stroke="#ee1111" stroke-width="0.9" stroke-opacity="0.85"/>
<rect x="371.59" y="250.75" width="2.1" height="6.25" fill="#ee1111"/>
<line x1="375.41" x2="375.41" y1="247.5" y2="258.25" stroke="#11988a" stroke-width="0.9" stroke-opacity="0.85"/>
<rect x="374.36" y="250.0" width="2.1" height="5.75" fill="#11988a"/>
<line x1="378.18" x2="378.18" y1="247.9" y2="255.0" stroke="#ee1111" stroke-width="0.9" stroke-opacity="0.85"/>
<rect x="377.13" y="248.25" width="2.1" height="3.35" fill="#ee1111"/>
<line x1="380.94" x2="380.94" y1="242.9" y2="253.5" stroke="#ee1111" stroke-width="0.9" stroke-opacity="0.85"/>
<rect x="379.89" y="248.25" width="2.1" height="1.50" fill="#ee1111"/>
<line x1="383.71" x2="383.71" y1="239.75" y2="250.75" stroke="#11988a" stroke-width="0.9" stroke-opacity="0.85"/>
<rect x="382.66" y="243.75" width="2.1" height="6.25" fill="#11988a"/>
<line x1="386.48" x2="386.48" y1="240.4" y2="258.25" stroke="#ee1111" stroke-width="0.9" stroke-opacity="0.85"/>
<rect x="385.43" y="247.5" width="2.1" height="4.10" fill="#ee1111"/>
<line x1="389.25" x2="389.25" y1="249.75" y2="257.0" stroke="#ee1111" stroke-width="0.9" stroke-opacity="0.85"/>
<rect x="388.20" y="250.4" width="2.1" height="1.20" fill="#ee1111"/>
<line x1="392.01" x2="392.01" y1="245.4" y2="262.5" stroke="#ee1111" stroke-width="0.9" stroke-opacity="0.85"/>
<rect x="390.96" y="251.6" width="2.1" height="9.40" fill="#ee1111"/>
<line x1="394.78" x2="394.78" y1="257.9" y2="268.75" stroke="#ee1111" stroke-width="0.9" stroke-opacity="0.85"/>
<rect x="393.73" y="259.0" width="2.1" height="1.00" fill="#ee1111"/>
<line x1="397.55" x2="397.55" y1="259.5" y2="272.5" stroke="#ee1111" stroke-width="0.9" stroke-opacity="0.85"/>
<rect x="396.50" y="260.0" width="2.1" height="6.00" fill="#ee1111"/>
<line x1="400.31" x2="400.31" y1="261.6" y2="267.9" stroke="#11988a" stroke-width="0.9" stroke-opacity="0.85"/>
<rect x="399.26" y="262.5" width="2.1" height="3.50" fill="#11988a"/>
<line x1="403.08" x2="403.08" y1="258.25" y2="269.5" stroke="#ee1111" stroke-width="0.9" stroke-opacity="0.85"/>
<rect x="402.03" y="262.9" width="2.1" height="2.50" fill="#ee1111"/>
<line x1="405.85" x2="405.85" y1="254.75" y2="266.0" stroke="#11988a" stroke-width="0.9" stroke-opacity="0.85"/>
<rect x="404.80" y="256.6" width="2.1" height="8.80" fill="#11988a"/>
<line x1="408.61" x2="408.61" y1="252.25" y2="262.0" stroke="#ee1111" stroke-width="0.9" stroke-opacity="0.85"/>
<rect x="407.56" y="254.75" width="2.1" height="1.25" fill="#ee1111"/>
<line x1="411.38" x2="411.38" y1="254.1" y2="261.6" stroke="#11988a" stroke-width="0.9" stroke-opacity="0.85"/>
<rect x="410.33" y="254.75" width="2.1" height="1.85" fill="#11988a"/>
<line x1="414.15" x2="414.15" y1="252.0" y2="258.8" stroke="#11988a" stroke-width="0.9" stroke-opacity="0.85"/>
<rect x="413.10" y="252.75" width="2.1" height="1.25" fill="#11988a"/>
<line x1="416.92" x2="416.92" y1="237.75" y2="253.7" stroke="#11988a" stroke-width="0.9" stroke-opacity="0.85"/>
<rect x="415.87" y="240.75" width="2.1" height="12.25" fill="#11988a"/>
<line x1="419.68" x2="419.68" y1="236.0" y2="247.0" stroke="#ee1111" stroke-width="0.9" stroke-opacity="0.85"/>
<rect x="418.63" y="240.75" width="2.1" height="4.25" fill="#ee1111"/>
<line x1="422.45" x2="422.45" y1="236.4" y2="246.4" stroke="#11988a" stroke-width="0.9" stroke-opacity="0.85"/>
<rect x="421.40" y="237.4" width="2.1" height="8.20" fill="#11988a"/>
<line x1="425.22" x2="425.22" y1="233.0" y2="253.25" stroke="#ee1111" stroke-width="0.9" stroke-opacity="0.85"/>
<rect x="424.17" y="238.4" width="2.1" height="10.30" fill="#ee1111"/>
<line x1="427.98" x2="427.98" y1="233.5" y2="251.0" stroke="#11988a" stroke-width="0.9" stroke-opacity="0.85"/>
<rect x="426.93" y="234.5" width="2.1" height="13.60" fill="#11988a"/>
<line x1="430.75" x2="430.75" y1="233.9" y2="246.5" stroke="#ee1111" stroke-width="0.9" stroke-opacity="0.85"/>
<rect x="429.70" y="235.1" width="2.1" height="8.60" fill="#ee1111"/>
<line x1="433.52" x2="433.52" y1="238.9" y2="246.4" stroke="#11988a" stroke-width="0.9" stroke-opacity="0.85"/>
<rect x="432.47" y="241.0" width="2.1" height="4.75" fill="#11988a"/>
<line x1="436.28" x2="436.28" y1="240.75" y2="251.0" stroke="#ee1111" stroke-width="0.9" stroke-opacity="0.85"/>
<rect x="435.23" y="242.6" width="2.1" height="5.00" fill="#ee1111"/>
<line x1="439.05" x2="439.05" y1="241.0" y2="249.25" stroke="#11988a" stroke-width="0.9" stroke-opacity="0.85"/>
<rect x="438.00" y="245.75" width="2.1" height="2.75" fill="#11988a"/>
<line x1="441.82" x2="441.82" y1="243.5" y2="250.75" stroke="#ee1111" stroke-width="0.9" stroke-opacity="0.85"/>
<rect x="440.77" y="245.5" width="2.1" height="2.50" fill="#ee1111"/>
<line x1="444.59" x2="444.59" y1="247.0" y2="253.25" stroke="#11988a" stroke-width="0.9" stroke-opacity="0.85"/>
<rect x="443.54" y="247.6" width="2.1" height="1.30" fill="#11988a"/>
<line x1="447.35" x2="447.35" y1="247.6" y2="256.4" stroke="#ee1111" stroke-width="0.9" stroke-opacity="0.85"/>
<rect x="446.30" y="250.1" width="2.1" height="2.50" fill="#ee1111"/>
<line x1="450.12" x2="450.12" y1="248.0" y2="254.25" stroke="#11988a" stroke-width="0.9" stroke-opacity="0.85"/>
<rect x="449.07" y="249.75" width="2.1" height="4.15" fill="#11988a"/>
<line x1="452.89" x2="452.89" y1="247.6" y2="252.6" stroke="#ee1111" stroke-width="0.9" stroke-opacity="0.85"/>
<rect x="451.84" y="249.5" width="2.1" height="1.90" fill="#ee1111"/>
<line x1="455.65" x2="455.65" y1="246.4" y2="255.75" stroke="#ee1111" stroke-width="0.9" stroke-opacity="0.85"/>
<rect x="454.60" y="252.0" width="2.1" height="3.10" fill="#ee1111"/>
<line x1="458.42" x2="458.42" y1="251.0" y2="258.25" stroke="#11988a" stroke-width="0.9" stroke-opacity="0.85"/>
<rect x="457.37" y="252.0" width="2.1" height="1.90" fill="#11988a"/>
<line x1="461.19" x2="461.19" y1="253.25" y2="276.0" stroke="#ee1111" stroke-width="0.9" stroke-opacity="0.85"/>
<rect x="460.14" y="253.25" width="2.1" height="20.65" fill="#ee1111"/>
<line x1="463.95" x2="463.95" y1="264.5" y2="278.9" stroke="#11988a" stroke-width="0.9" stroke-opacity="0.85"/>
<rect x="462.90" y="266.4" width="2.1" height="4.60" fill="#11988a"/>
<line x1="466.72" x2="466.72" y1="267.0" y2="276.4" stroke="#ee1111" stroke-width="0.9" stroke-opacity="0.85"/>
<rect x="465.67" y="267.6" width="2.1" height="4.40" fill="#ee1111"/>
<line x1="469.49" x2="469.49" y1="268.9" y2="275.1" stroke="#11988a" stroke-width="0.9" stroke-opacity="0.85"/>
<rect x="468.44" y="269.0" width="2.1" height="2.00" fill="#11988a"/>
<line x1="472.26" x2="472.26" y1="264.5" y2="272.6" stroke="#11988a" stroke-width="0.9" stroke-opacity="0.85"/>
<rect x="471.21" y="265.5" width="2.1" height="4.60" fill="#11988a"/>
<line x1="475.02" x2="475.02" y1="247.0" y2="266.0" stroke="#11988a" stroke-width="0.9" stroke-opacity="0.85"/>
<rect x="473.97" y="251.4" width="2.1" height="12.50" fill="#11988a"/>
<line x1="477.79" x2="477.79" y1="238.25" y2="254.75" stroke="#11988a" stroke-width="0.9" stroke-opacity="0.85"/>
<rect x="476.74" y="242.0" width="2.1" height="10.60" fill="#11988a"/>
<line x1="480.56" x2="480.56" y1="216.0" y2="241.75" stroke="#11988a" stroke-width="0.9" stroke-opacity="0.85"/>
<rect x="479.51" y="226.2" width="2.1" height="12.70" fill="#11988a"/>
<line x1="483.32" x2="483.32" y1="221.6" y2="234.25" stroke="#ee1111" stroke-width="0.9" stroke-opacity="0.85"/>
<rect x="482.27" y="227.25" width="2.1" height="2.25" fill="#ee1111"/>
<line x1="486.09" x2="486.09" y1="223.7" y2="233.5" stroke="#11988a" stroke-width="0.9" stroke-opacity="0.85"/>
<rect x="485.04" y="227.0" width="2.1" height="3.75" fill="#11988a"/>
<line x1="488.86" x2="488.86" y1="223.0" y2="233.25" stroke="#ee1111" stroke-width="0.9" stroke-opacity="0.85"/>
<rect x="487.81" y="226.5" width="2.1" height="1.50" fill="#ee1111"/>
<line x1="491.62" x2="491.62" y1="217.25" y2="232.0" stroke="#11988a" stroke-width="0.9" stroke-opacity="0.85"/>
<rect x="490.57" y="219.75" width="2.1" height="6.45" fill="#11988a"/>
<line x1="494.39" x2="494.39" y1="194.0" y2="217.0" stroke="#11988a" stroke-width="0.9" stroke-opacity="0.85"/>
<rect x="493.34" y="194.1" width="2.1" height="21.90" fill="#11988a"/>
<line x1="497.16" x2="497.16" y1="189.0" y2="201.0" stroke="#ee1111" stroke-width="0.9" stroke-opacity="0.85"/>
<rect x="496.11" y="193.75" width="2.1" height="1.25" fill="#ee1111"/>
<line x1="499.93" x2="499.93" y1="175.75" y2="197.25" stroke="#11988a" stroke-width="0.9" stroke-opacity="0.85"/>
<rect x="498.88" y="181.6" width="2.1" height="13.40" fill="#11988a"/>
<line x1="502.69" x2="502.69" y1="170.0" y2="185.75" stroke="#11988a" stroke-width="0.9" stroke-opacity="0.85"/>
<rect x="501.64" y="177.9" width="2.1" height="1.60" fill="#11988a"/>
<line x1="505.46" x2="505.46" y1="179.1" y2="187.9" stroke="#ee1111" stroke-width="0.9" stroke-opacity="0.85"/>
<rect x="504.41" y="180.4" width="2.1" height="3.70" fill="#ee1111"/>
<line x1="508.23" x2="508.23" y1="179.1" y2="193.75" stroke="#ee1111" stroke-width="0.9" stroke-opacity="0.85"/>
<rect x="507.18" y="182.0" width="2.1" height="9.60" fill="#ee1111"/>
<line x1="510.99" x2="510.99" y1="189.1" y2="208.25" stroke="#ee1111" stroke-width="0.9" stroke-opacity="0.85"/>
<rect x="509.94" y="191.6" width="2.1" height="5.65" fill="#ee1111"/>
<line x1="513.76" x2="513.76" y1="186.6" y2="205.75" stroke="#11988a" stroke-width="0.9" stroke-opacity="0.85"/>
<rect x="512.71" y="187.9" width="2.1" height="9.60" fill="#11988a"/>
<line x1="516.53" x2="516.53" y1="181.0" y2="192.0" stroke="#ee1111" stroke-width="0.9" stroke-opacity="0.85"/>
<rect x="515.48" y="187.9" width="2.1" height="1.20" fill="#ee1111"/>
<line x1="519.29" x2="519.29" y1="171.25" y2="190.0" stroke="#11988a" stroke-width="0.9" stroke-opacity="0.85"/>
<rect x="518.25" y="174.1" width="2.1" height="15.65" fill="#11988a"/>
<line x1="522.06" x2="522.06" y1="170.75" y2="186.6" stroke="#ee1111" stroke-width="0.9" stroke-opacity="0.85"/>
<rect x="521.01" y="177.9" width="2.1" height="5.85" fill="#ee1111"/>
<line x1="524.83" x2="524.83" y1="171.25" y2="187.0" stroke="#11988a" stroke-width="0.9" stroke-opacity="0.85"/>
<rect x="523.78" y="176.6" width="2.1" height="7.50" fill="#11988a"/>
<line x1="527.60" x2="527.60" y1="166.5" y2="181.0" stroke="#11988a" stroke-width="0.9" stroke-opacity="0.85"/>
<rect x="526.55" y="177.9" width="2.1" height="1.00" fill="#11988a"/>
<line x1="530.36" x2="530.36" y1="172.7" y2="191.6" stroke="#ee1111" stroke-width="0.9" stroke-opacity="0.85"/>
<rect x="529.31" y="175.0" width="2.1" height="4.10" fill="#ee1111"/>
<line x1="533.13" x2="533.13" y1="165.75" y2="179.1" stroke="#11988a" stroke-width="0.9" stroke-opacity="0.85"/>
<rect x="532.08" y="168.5" width="2.1" height="5.50" fill="#11988a"/>
<line x1="535.90" x2="535.90" y1="158.9" y2="171.4" stroke="#11988a" stroke-width="0.9" stroke-opacity="0.85"/>
<rect x="534.85" y="166.75" width="2.1" height="2.75" fill="#11988a"/>
<line x1="538.66" x2="538.66" y1="153.9" y2="168.9" stroke="#11988a" stroke-width="0.9" stroke-opacity="0.85"/>
<rect x="537.61" y="162.0" width="2.1" height="4.40" fill="#11988a"/>
<line x1="541.43" x2="541.43" y1="156.75" y2="169.5" stroke="#ee1111" stroke-width="0.9" stroke-opacity="0.85"/>
<rect x="540.38" y="160.75" width="2.1" height="7.50" fill="#ee1111"/>
<line x1="544.20" x2="544.20" y1="160.1" y2="173.2" stroke="#11988a" stroke-width="0.9" stroke-opacity="0.85"/>
<rect x="543.15" y="165.5" width="2.1" height="1.50" fill="#11988a"/>
<line x1="546.96" x2="546.96" y1="160.1" y2="166.4" stroke="#ee1111" stroke-width="0.9" stroke-opacity="0.85"/>
<rect x="545.91" y="164.5" width="2.1" height="1.50" fill="#ee1111"/>
<line x1="549.73" x2="549.73" y1="162.0" y2="176.25" stroke="#ee1111" stroke-width="0.9" stroke-opacity="0.85"/>
<rect x="548.68" y="162.6" width="2.1" height="12.10" fill="#ee1111"/>
<line x1="552.50" x2="552.50" y1="158.9" y2="177.9" stroke="#11988a" stroke-width="0.9" stroke-opacity="0.85"/>
<rect x="551.45" y="166.6" width="2.1" height="9.15" fill="#11988a"/>
<line x1="555.27" x2="555.27" y1="144.75" y2="165.75" stroke="#11988a" stroke-width="0.9" stroke-opacity="0.85"/>
<rect x="554.22" y="144.75" width="2.1" height="20.35" fill="#11988a"/>
<line x1="558.03" x2="558.03" y1="132.6" y2="148.5" stroke="#11988a" stroke-width="0.9" stroke-opacity="0.85"/>
<rect x="556.98" y="144.25" width="2.1" height="1.50" fill="#11988a"/>
<line x1="560.80" x2="560.80" y1="140.75" y2="158.0" stroke="#ee1111" stroke-width="0.9" stroke-opacity="0.85"/>
<rect x="559.75" y="146.0" width="2.1" height="7.90" fill="#ee1111"/>
<line x1="563.57" x2="563.57" y1="149.5" y2="163.25" stroke="#11988a" stroke-width="0.9" stroke-opacity="0.85"/>
<rect x="562.52" y="151.75" width="2.1" height="2.15" fill="#11988a"/>
<line x1="566.33" x2="566.33" y1="142.0" y2="156.0" stroke="#11988a" stroke-width="0.9" stroke-opacity="0.85"/>
<rect x="565.28" y="145.75" width="2.1" height="10.00" fill="#11988a"/>
<line x1="569.10" x2="569.10" y1="138.25" y2="146.0" stroke="#11988a" stroke-width="0.9" stroke-opacity="0.85"/>
<rect x="568.05" y="140.5" width="2.1" height="5.25" fill="#11988a"/>
<line x1="571.87" x2="571.87" y1="132.0" y2="146.0" stroke="#11988a" stroke-width="0.9" stroke-opacity="0.85"/>
<rect x="570.82" y="139.0" width="2.1" height="1.50" fill="#11988a"/>
<line x1="574.63" x2="574.63" y1="136.75" y2="146.0" stroke="#ee1111" stroke-width="0.9" stroke-opacity="0.85"/>
<rect x="573.59" y="137.6" width="2.1" height="3.40" fill="#ee1111"/>
<line x1="577.40" x2="577.40" y1="136.4" y2="142.6" stroke="#11988a" stroke-width="0.9" stroke-opacity="0.85"/>
<rect x="576.35" y="139.5" width="2.1" height="2.50" fill="#11988a"/>
<line x1="580.17" x2="580.17" y1="134.5" y2="139.5" stroke="#11988a" stroke-width="0.9" stroke-opacity="0.85"/>
<rect x="579.12" y="136.4" width="2.1" height="2.50" fill="#11988a"/>
<line x1="582.94" x2="582.94" y1="129.75" y2="138.9" stroke="#11988a" stroke-width="0.9" stroke-opacity="0.85"/>
<rect x="581.89" y="131.0" width="2.1" height="6.60" fill="#11988a"/>
<line x1="585.70" x2="585.70" y1="127.0" y2="133.7" stroke="#ee1111" stroke-width="0.9" stroke-opacity="0.85"/>
<rect x="584.65" y="130.5" width="2.1" height="2.50" fill="#ee1111"/>
<line x1="588.47" x2="588.47" y1="127.25" y2="135.75" stroke="#11988a" stroke-width="0.9" stroke-opacity="0.85"/>
<rect x="587.42" y="128.7" width="2.1" height="5.30" fill="#11988a"/>
<line x1="591.24" x2="591.24" y1="120.0" y2="128.7" stroke="#11988a" stroke-width="0.9" stroke-opacity="0.85"/>
<rect x="590.19" y="122.0" width="2.1" height="5.00" fill="#11988a"/>
<line x1="594.00" x2="594.00" y1="105.4" y2="120.2" stroke="#11988a" stroke-width="0.9" stroke-opacity="0.85"/>
<rect x="592.95" y="106.0" width="2.1" height="12.80" fill="#11988a"/>
<line x1="596.77" x2="596.77" y1="91.0" y2="113.5" stroke="#11988a" stroke-width="0.9" stroke-opacity="0.85"/>
<rect x="595.72" y="97.9" width="2.1" height="4.60" fill="#11988a"/>
<line x1="599.54" x2="599.54" y1="89.5" y2="103.5" stroke="#11988a" stroke-width="0.9" stroke-opacity="0.85"/>
<rect x="598.49" y="89.75" width="2.1" height="11.25" fill="#11988a"/>
<line x1="602.30" x2="602.30" y1="83.25" y2="100.4" stroke="#ee1111" stroke-width="0.9" stroke-opacity="0.85"/>
<rect x="601.25" y="89.1" width="2.1" height="7.15" fill="#ee1111"/>
<line x1="605.07" x2="605.07" y1="92.5" y2="111.6" stroke="#ee1111" stroke-width="0.9" stroke-opacity="0.85"/>
<rect x="604.02" y="97.9" width="2.1" height="1.85" fill="#ee1111"/>
<line x1="607.84" x2="607.84" y1="96.0" y2="108.75" stroke="#ee1111" stroke-width="0.9" stroke-opacity="0.85"/>
<rect x="606.79" y="105.4" width="2.1" height="1.20" fill="#ee1111"/>
<line x1="610.61" x2="610.61" y1="106.0" y2="116.0" stroke="#ee1111" stroke-width="0.9" stroke-opacity="0.85"/>
<rect x="609.56" y="106.6" width="2.1" height="5.00" fill="#ee1111"/>
<line x1="613.37" x2="613.37" y1="98.5" y2="110.4" stroke="#ee1111" stroke-width="0.9" stroke-opacity="0.85"/>
<rect x="612.32" y="106.6" width="2.1" height="2.50" fill="#ee1111"/>
<line x1="616.14" x2="616.14" y1="94.1" y2="108.25" stroke="#11988a" stroke-width="0.9" stroke-opacity="0.85"/>
<rect x="615.09" y="98.25" width="2.1" height="9.65" fill="#11988a"/>
<line x1="618.91" x2="618.91" y1="94.75" y2="119.0" stroke="#ee1111" stroke-width="0.9" stroke-opacity="0.85"/>
<rect x="617.86" y="106.0" width="2.1" height="1.00" fill="#ee1111"/>
<line x1="621.67" x2="621.67" y1="99.1" y2="113.5" stroke="#ee1111" stroke-width="0.9" stroke-opacity="0.85"/>
<rect x="620.62" y="102.0" width="2.1" height="7.50" fill="#ee1111"/>
<line x1="624.44" x2="624.44" y1="105.4" y2="129.1" stroke="#ee1111" stroke-width="0.9" stroke-opacity="0.85"/>
<rect x="623.39" y="106.6" width="2.1" height="12.90" fill="#ee1111"/>
<line x1="627.21" x2="627.21" y1="106.0" y2="126.5" stroke="#11988a" stroke-width="0.9" stroke-opacity="0.85"/>
<rect x="626.16" y="106.6" width="2.1" height="17.90" fill="#11988a"/>
<line x1="629.97" x2="629.97" y1="104.2" y2="124.2" stroke="#ee1111" stroke-width="0.9" stroke-opacity="0.85"/>
<rect x="628.92" y="105.4" width="2.1" height="18.30" fill="#ee1111"/>
<line x1="632.74" x2="632.74" y1="115.4" y2="134.1" stroke="#11988a" stroke-width="0.9" stroke-opacity="0.85"/>
<rect x="631.69" y="121.6" width="2.1" height="5.65" fill="#11988a"/>
<line x1="635.51" x2="635.51" y1="121.0" y2="134.1" stroke="#ee1111" stroke-width="0.9" stroke-opacity="0.85"/>
<rect x="634.46" y="121.6" width="2.1" height="9.40" fill="#ee1111"/>
<line x1="638.28" x2="638.28" y1="119.75" y2="133.5" stroke="#11988a" stroke-width="0.9" stroke-opacity="0.85"/>
<rect x="637.23" y="123.5" width="2.1" height="2.50" fill="#11988a"/>
<line x1="641.04" x2="641.04" y1="112.25" y2="124.5" stroke="#11988a" stroke-width="0.9" stroke-opacity="0.85"/>
<rect x="639.99" y="116.0" width="2.1" height="6.25" fill="#11988a"/>
<line x1="643.81" x2="643.81" y1="104.75" y2="115.75" stroke="#11988a" stroke-width="0.9" stroke-opacity="0.85"/>
<rect x="642.76" y="108.75" width="2.1" height="4.50" fill="#11988a"/>
<line x1="646.58" x2="646.58" y1="106.0" y2="115.75" stroke="#ee1111" stroke-width="0.9" stroke-opacity="0.85"/>
<rect x="645.53" y="109.1" width="2.1" height="4.40" fill="#ee1111"/>
<line x1="649.34" x2="649.34" y1="109.1" y2="123.5" stroke="#ee1111" stroke-width="0.9" stroke-opacity="0.85"/>
<rect x="648.29" y="112.25" width="2.1" height="3.15" fill="#ee1111"/>
<line x1="652.11" x2="652.11" y1="107.9" y2="115.4" stroke="#11988a" stroke-width="0.9" stroke-opacity="0.85"/>
<rect x="651.06" y="112.25" width="2.1" height="2.75" fill="#11988a"/>
<line x1="654.88" x2="654.88" y1="102.25" y2="116.25" stroke="#11988a" stroke-width="0.9" stroke-opacity="0.85"/>
<rect x="653.83" y="106.0" width="2.1" height="6.00" fill="#11988a"/>
<line x1="657.64" x2="657.64" y1="97.25" y2="108.75" stroke="#ee1111" stroke-width="0.9" stroke-opacity="0.85"/>
<rect x="656.60" y="102.25" width="2.1" height="3.50" fill="#ee1111"/>
<line x1="660.41" x2="660.41" y1="99.1" y2="110.4" stroke="#11988a" stroke-width="0.9" stroke-opacity="0.85"/>
<rect x="659.36" y="104.75" width="2.1" height="3.15" fill="#11988a"/>
<line x1="663.18" x2="663.18" y1="101.6" y2="111.6" stroke="#11988a" stroke-width="0.9" stroke-opacity="0.85"/>
<rect x="662.13" y="102.25" width="2.1" height="2.50" fill="#11988a"/>
</g>
<line x1="5.7" x2="833.5" y1="102.3" y2="102.3" stroke="#5db8ae" stroke-width="1" stroke-dasharray="1,1.7"/>
<rect x="456.3" y="119.5" width="281.2" height="19.9" fill="none" stroke="#888" stroke-width="3.4" stroke-opacity="0.42" filter="url(#sh)"/>
<rect x="456.3" y="119.5" width="281.2" height="19.9" fill="#c2c2c2" fill-opacity="0.62"/>
<rect x="457.5" y="120.7" width="278.8" height="17.5" fill="none" stroke="#fff" stroke-width="1.8" stroke-opacity="0.4" filter="url(#sh2)"/>
<rect x="456.3" y="119.5" width="281.2" height="19.9" fill="none" stroke="#e8c25c" stroke-width="0.95"/>
<rect x="208.4" y="213.4" width="432.2" height="25.0" fill="none" stroke="#888" stroke-width="3.4" stroke-opacity="0.42" filter="url(#sh)"/>
<rect x="208.4" y="213.4" width="432.2" height="25.0" fill="#c2c2c2" fill-opacity="0.62"/>
<rect x="209.6" y="214.6" width="429.8" height="22.6" fill="none" stroke="#fff" stroke-width="1.8" stroke-opacity="0.4" filter="url(#sh2)"/>
<rect x="208.4" y="213.4" width="432.2" height="25.0" fill="none" stroke="#e8c25c" stroke-width="0.95"/>
<rect x="16.2" y="319.4" width="468.4" height="22.0" fill="none" stroke="#888" stroke-width="3.4" stroke-opacity="0.42" filter="url(#sh)"/>
<rect x="16.2" y="319.4" width="468.4" height="22.0" fill="#c2c2c2" fill-opacity="0.62"/>
<rect x="17.4" y="320.59999999999997" width="466.0" height="19.6" fill="none" stroke="#fff" stroke-width="1.8" stroke-opacity="0.4" filter="url(#sh2)"/>
<rect x="16.2" y="319.4" width="468.4" height="22.0" fill="none" stroke="#e8c25c" stroke-width="0.95"/>
<clipPath id="co"><rect x="456.3" y="119.5" width="281.2" height="19.9"/><rect x="208.4" y="213.4" width="432.2" height="25"/></clipPath>
<polyline clip-path="url(#co)" points="8.00,219.30 9.00,220.20 10.00,221.10 11.00,222.00 12.00,222.90 13.00,223.80 14.00,224.70 15.00,225.61 16.00,226.51 17.00,227.42 18.00,228.35 19.00,229.37 20.00,230.51 21.00,231.83 22.00,233.32 23.00,234.92 24.00,236.63 25.00,238.46 26.00,240.37 27.00,242.35 28.00,244.35 29.00,246.35 30.00,248.33 31.00,250.24 32.00,252.07 33.00,253.79 34.00,255.46 35.00,257.12 36.00,258.78 37.00,260.45 38.00,262.12 39.00,263.78 40.00,265.40 41.00,266.93 42.00,268.33 43.00,269.61 44.00,270.81 45.00,271.96 46.00,273.10 47.00,274.23 48.00,275.36 49.00,276.50 50.00,277.64 51.00,278.81 52.00,280.04 53.00,281.33 54.00,282.63 55.00,283.83 56.00,284.84 57.00,285.67 58.00,286.39 59.00,287.06 60.00,287.73 61.00,288.40 62.00,289.07 63.00,289.73 64.00,290.40 65.00,291.07 66.00,291.73 67.00,292.39 68.00,293.04 69.00,293.64 70.00,294.17 71.00,294.60 72.00,294.95 73.00,295.26 74.00,295.56 75.00,295.85 76.00,296.14 77.00,296.43 78.00,296.72 79.00,297.01 80.00,297.30 81.00,297.59 82.00,297.89 83.00,298.19 84.00,298.54 85.00,298.96 86.00,299.47 87.00,300.05 88.00,300.66 89.00,301.30 90.00,301.93 91.00,302.57 92.00,303.20 93.00,303.84 94.00,304.48 95.00,305.11 96.00,305.75 97.00,306.38 98.00,307.01 99.00,307.63 100.00,308.23 101.00,308.84 102.00,309.43 103.00,310.03 104.00,310.62 105.00,311.21 106.00,311.79 107.00,312.32 108.00,312.79 109.00,313.16 110.00,313.46 111.00,313.71 112.00,313.94 113.00,314.15 114.00,314.35 115.00,314.56 116.00,314.76 117.00,314.96 118.00,315.16 119.00,315.36 120.00,315.57 121.00,315.77 122.00,315.97 123.00,316.17 124.00,316.37 125.00,316.57 126.00,316.78 127.00,316.98 128.00,317.18 129.00,317.38 130.00,317.58 131.00,317.79 132.00,317.99 133.00,318.19 134.00,318.39 135.00,318.59 136.00,318.80 137.00,319.02 138.00,319.26 139.00,319.56 140.00,319.93 141.00,320.35 142.00,320.80 143.00,321.26 144.00,321.71 145.00,322.13 146.00,322.50 147.00,322.76 148.00,322.91 149.00,322.97 150.00,322.99 151.00,323.00 152.00,323.00 153.00,323.00 154.00,323.00 155.00,323.00 156.00,322.98 157.00,322.94 158.00,322.85 159.00,322.70 160.00,322.50 161.00,322.28 162.00,322.04 163.00,321.80 164.00,321.56 165.00,321.32 166.00,321.08 167.00,320.84 168.00,320.59 169.00,320.33 170.00,320.05 171.00,319.73 172.00,319.37 173.00,318.99 174.00,318.60 175.00,318.20 176.00,317.80 177.00,317.40 178.00,317.01 179.00,316.64 180.00,316.32 181.00,316.06 182.00,315.87 183.00,315.72 184.00,315.59 185.00,315.47 186.00,315.36 187.00,315.25 188.00,315.15 189.00,315.09 190.00,315.07 191.00,315.08 192.00,315.10 193.00,315.13 194.00,315.17 195.00,315.20 196.00,315.23 197.00,315.27 198.00,315.30 199.00,315.33 200.00,315.37 201.00,315.40 202.00,315.43 203.00,315.47 204.00,315.50 205.00,315.53 206.00,315.57 207.00,315.60 208.00,315.63 209.00,315.67 210.00,315.70 211.00,315.73 212.00,315.77 213.00,315.80 214.00,315.83 215.00,315.87 216.00,315.90 217.00,315.94 218.00,315.97 219.00,316.01 220.00,316.06 221.00,316.12 222.00,316.17 223.00,316.22 224.00,316.27 225.00,316.27 226.00,316.22 227.00,316.10 228.00,315.93 229.00,315.72 230.00,315.49 231.00,315.27 232.00,315.04 233.00,314.81 234.00,314.59 235.00,314.36 236.00,314.13 237.00,313.91 238.00,313.68 239.00,313.47 240.00,313.29 241.00,313.15 242.00,313.08 243.00,313.06 244.00,313.06 245.00,313.08 246.00,313.10 247.00,313.12 248.00,313.14 249.00,313.16 250.00,313.18 251.00,313.20 252.00,313.21 253.00,313.21 254.00,313.19 255.00,313.16 256.00,313.11 257.00,313.06 258.00,313.01 259.00,312.96 260.00,312.90 261.00,312.85 262.00,312.80 263.00,312.74 264.00,312.69 265.00,312.64 266.00,312.58 267.00,312.53 268.00,312.48 269.00,312.42 270.00,312.36 271.00,312.29 272.00,312.19 273.00,312.05 274.00,311.88 275.00,311.70 276.00,311.50 277.00,311.30 278.00,311.10 279.00,310.90 280.00,310.70 281.00,310.50 282.00,310.30 283.00,310.10 284.00,309.88 285.00,309.64 286.00,309.35 287.00,309.00 288.00,308.59 289.00,308.16 290.00,307.72 291.00,307.28 292.00,306.83 293.00,306.39 294.00,305.95 295.00,305.50 296.00,305.07 297.00,304.65 298.00,304.25 299.00,303.86 300.00,303.49 301.00,303.12 302.00,302.75 303.00,302.38 304.00,302.01 305.00,301.64 306.00,301.27 307.00,300.90 308.00,300.53 309.00,300.16 310.00,299.80 311.00,299.44 312.00,299.11 313.00,298.83 314.00,298.62 315.00,298.50 316.00,298.42 317.00,298.37 318.00,298.33 319.00,298.30 320.00,298.26 321.00,298.22 322.00,298.19 323.00,298.15 324.00,298.11 325.00,298.07 326.00,298.02 327.00,297.97 328.00,297.90 329.00,297.81 330.00,297.73 331.00,297.64 332.00,297.55 333.00,297.45 334.00,297.36 335.00,297.27 336.00,297.18 337.00,297.09 338.00,297.00 339.00,296.91 340.00,296.82 341.00,296.73 342.00,296.64 343.00,296.55 344.00,296.45 345.00,296.36 346.00,296.27 347.00,296.17 348.00,296.07 349.00,295.94 350.00,295.79 351.00,295.61 352.00,295.43 353.00,295.24 354.00,295.05 355.00,294.86 356.00,294.66 357.00,294.47 358.00,294.28 359.00,294.09 360.00,293.90 361.00,293.71 362.00,293.51 363.00,293.30 364.00,293.05 365.00,292.71 366.00,292.26 367.00,291.72 368.00,291.11 369.00,290.48 370.00,289.83 371.00,289.19 372.00,288.54 373.00,287.89 374.00,287.24 375.00,286.58 376.00,285.92 377.00,285.25 378.00,284.58 379.00,283.92 380.00,283.25 381.00,282.58 382.00,281.92 383.00,281.25 384.00,280.58 385.00,279.92 386.00,279.26 387.00,278.61 388.00,278.00 389.00,277.46 390.00,277.00 391.00,276.61 392.00,276.26 393.00,275.92 394.00,275.58 395.00,275.25 396.00,274.92 397.00,274.58 398.00,274.25 399.00,273.92 400.00,273.58 401.00,273.25 402.00,272.92 403.00,272.58 404.00,272.25 405.00,271.92 406.00,271.58 407.00,271.25 408.00,270.91 409.00,270.57 410.00,270.22 411.00,269.83 412.00,269.40 413.00,268.92 414.00,268.41 415.00,267.88 416.00,267.35 417.00,266.82 418.00,266.29 419.00,265.76 420.00,265.22 421.00,264.69 422.00,264.16 423.00,263.63 424.00,263.09 425.00,262.56 426.00,262.03 427.00,261.50 428.00,260.97 429.00,260.46 430.00,259.98 431.00,259.55 432.00,259.18 433.00,258.85 434.00,258.55 435.00,258.25 436.00,257.95 437.00,257.65 438.00,257.35 439.00,257.05 440.00,256.75 441.00,256.45 442.00,256.15 443.00,255.85 444.00,255.55 445.00,255.25 446.00,254.95 447.00,254.66 448.00,254.40 449.00,254.18 450.00,254.03 451.00,253.95 452.00,253.91 453.00,253.90 454.00,253.90 455.00,253.90 456.00,253.90 457.00,253.90 458.00,253.90 459.00,253.90 460.00,253.91 461.00,253.94 462.00,254.00 463.00,254.10 464.00,254.23 465.00,254.38 466.00,254.54 467.00,254.70 468.00,254.86 469.00,255.01 470.00,255.15 471.00,255.23 472.00,255.22 473.00,255.09 474.00,254.87 475.00,254.59 476.00,254.30 477.00,253.99 478.00,253.65 479.00,253.27 480.00,252.82 481.00,252.30 482.00,251.74 483.00,251.15 484.00,250.55 485.00,249.95 486.00,249.35 487.00,248.75 488.00,248.15 489.00,247.54 490.00,246.91 491.00,246.21 492.00,245.40 493.00,244.45 494.00,243.38 495.00,242.24 496.00,241.08 497.00,239.91 498.00,238.74 499.00,237.56 500.00,236.37 501.00,235.17 502.00,233.96 503.00,232.76 504.00,231.60 505.00,230.51 506.00,229.52 507.00,228.61 508.00,227.76 509.00,226.93 510.00,226.10 511.00,225.28 512.00,224.46 513.00,223.63 514.00,222.77 515.00,221.88 516.00,220.94 517.00,219.96 518.00,218.96 519.00,217.96 520.00,216.94 521.00,215.93 522.00,214.93 523.00,213.92 524.00,212.93 525.00,211.95 526.00,210.98 527.00,210.02 528.00,209.06 529.00,208.10 530.00,207.14 531.00,206.18 532.00,205.22 533.00,204.26 534.00,203.30 535.00,202.34 536.00,201.38 537.00,200.43 538.00,199.51 539.00,198.62 540.00,197.77 541.00,196.97 542.00,196.19 543.00,195.42 544.00,194.65 545.00,193.87 546.00,193.10 547.00,192.33 548.00,191.56 549.00,190.79 550.00,190.01 551.00,189.22 552.00,188.39 553.00,187.51 554.00,186.57 555.00,185.59 556.00,184.58 557.00,183.56 558.00,182.54 559.00,181.52 560.00,180.49 561.00,179.47 562.00,178.46 563.00,177.45 564.00,176.46 565.00,175.49 566.00,174.54 567.00,173.61 568.00,172.68 569.00,171.76 570.00,170.84 571.00,169.92 572.00,169.00 573.00,168.08 574.00,167.16 575.00,166.24 576.00,165.34 577.00,164.43 578.00,163.54 579.00,162.64 580.00,161.74 581.00,160.83 582.00,159.90 583.00,158.96 584.00,157.98 585.00,157.00 586.00,156.00 587.00,155.00 588.00,154.00 589.00,153.00 590.00,152.00 591.00,150.98 592.00,149.93 593.00,148.79 594.00,147.52 595.00,146.10 596.00,144.58 597.00,143.00 598.00,141.45 599.00,139.98 600.00,138.63 601.00,137.38 602.00,136.21 603.00,135.08 604.00,133.97 605.00,132.87 606.00,131.79 607.00,130.75 608.00,129.73 609.00,128.74 610.00,127.77 611.00,126.82 612.00,125.92 613.00,125.04 614.00,124.19 615.00,123.34 616.00,122.50 617.00,121.65 618.00,120.81 619.00,119.97 620.00,119.14 621.00,118.35 622.00,117.63 623.00,117.01 624.00,116.49 625.00,116.02 626.00,115.59 627.00,115.17 628.00,114.75 629.00,114.33 630.00,113.92 631.00,113.52 632.00,113.15 633.00,112.79 634.00,112.44 635.00,112.09 636.00,111.74 637.00,111.40 638.00,111.05 639.00,110.71 640.00,110.36 641.00,110.00 642.00,109.63 643.00,109.23 644.00,108.82 645.00,108.38 646.00,107.94 647.00,107.49 648.00,107.05 649.00,106.61 650.00,106.18 651.00,105.75 652.00,105.34 653.00,104.92 654.00,104.51 655.00,104.09 656.00,103.67 657.00,103.25 658.00,102.83 659.00,102.41 660.00,101.99 661.00,101.56 662.00,101.14 663.00,100.72" fill="none" stroke="#f5801f" stroke-width="1.0" stroke-opacity="0.45"/>
<polyline clip-path="url(#co)" points="8.00,231.00 9.00,231.28 10.00,231.57 11.00,231.86 12.00,232.15 13.00,232.44 14.00,232.74 15.00,233.04 16.00,233.36 17.00,233.69 18.00,234.03 19.00,234.39 20.00,234.78 21.00,235.19 22.00,235.62 23.00,236.08 24.00,236.56 25.00,237.06 26.00,237.59 27.00,238.13 28.00,238.69 29.00,239.25 30.00,239.83 31.00,240.41 32.00,241.00 33.00,241.59 34.00,242.18 35.00,242.77 36.00,243.36 37.00,243.95 38.00,244.54 39.00,245.12 40.00,245.71 41.00,246.30 42.00,246.88 43.00,247.47 44.00,248.05 45.00,248.63 46.00,249.20 47.00,249.77 48.00,250.33 49.00,250.88 50.00,251.42 51.00,251.94 52.00,252.44 53.00,252.93 54.00,253.39 55.00,253.84 56.00,254.27 57.00,254.68 58.00,255.08 59.00,255.46 60.00,255.83 61.00,256.19 62.00,256.55 63.00,256.90 64.00,257.25 65.00,257.59 66.00,257.94 67.00,258.28 68.00,258.62 69.00,258.97 70.00,259.31 71.00,259.65 72.00,260.00 73.00,260.34 74.00,260.69 75.00,261.04 76.00,261.39 77.00,261.74 78.00,262.10 79.00,262.46 80.00,262.82 81.00,263.19 82.00,263.56 83.00,263.93 84.00,264.31 85.00,264.70 86.00,265.08 87.00,265.47 88.00,265.86 89.00,266.25 90.00,266.64 91.00,267.03 92.00,267.42 93.00,267.82 94.00,268.21 95.00,268.60 96.00,268.99 97.00,269.39 98.00,269.78 99.00,270.17 100.00,270.56 101.00,270.95 102.00,271.33 103.00,271.71 104.00,272.09 105.00,272.46 106.00,272.83 107.00,273.18 108.00,273.53 109.00,273.87 110.00,274.20 111.00,274.52 112.00,274.84 113.00,275.15 114.00,275.45 115.00,275.75 116.00,276.05 117.00,276.34 118.00,276.63 119.00,276.93 120.00,277.22 121.00,277.51 122.00,277.79 123.00,278.08 124.00,278.37 125.00,278.66 126.00,278.95 127.00,279.24 128.00,279.52 129.00,279.81 130.00,280.10 131.00,280.38 132.00,280.66 133.00,280.95 134.00,281.23 135.00,281.51 136.00,281.79 137.00,282.07 138.00,282.35 139.00,282.63 140.00,282.91 141.00,283.19 142.00,283.47 143.00,283.75 144.00,284.02 145.00,284.30 146.00,284.58 147.00,284.86 148.00,285.14 149.00,285.41 150.00,285.69 151.00,285.97 152.00,286.25 153.00,286.52 154.00,286.80 155.00,287.08 156.00,287.35 157.00,287.63 158.00,287.90 159.00,288.16 160.00,288.43 161.00,288.68 162.00,288.94 163.00,289.18 164.00,289.41 165.00,289.64 166.00,289.85 167.00,290.05 168.00,290.25 169.00,290.43 170.00,290.61 171.00,290.78 172.00,290.94 173.00,291.10 174.00,291.26 175.00,291.41 176.00,291.57 177.00,291.72 178.00,291.87 179.00,292.02 180.00,292.17 181.00,292.32 182.00,292.47 183.00,292.62 184.00,292.77 185.00,292.92 186.00,293.07 187.00,293.21 188.00,293.36 189.00,293.51 190.00,293.66 191.00,293.81 192.00,293.96 193.00,294.11 194.00,294.26 195.00,294.41 196.00,294.56 197.00,294.71 198.00,294.86 199.00,295.01 200.00,295.16 201.00,295.31 202.00,295.46 203.00,295.61 204.00,295.76 205.00,295.91 206.00,296.06 207.00,296.21 208.00,296.35 209.00,296.50 210.00,296.65 211.00,296.80 212.00,296.95 213.00,297.10 214.00,297.24 215.00,297.39 216.00,297.53 217.00,297.67 218.00,297.81 219.00,297.95 220.00,298.09 221.00,298.22 222.00,298.35 223.00,298.49 224.00,298.61 225.00,298.74 226.00,298.87 227.00,299.00 228.00,299.12 229.00,299.25 230.00,299.37 231.00,299.50 232.00,299.63 233.00,299.75 234.00,299.88 235.00,300.00 236.00,300.13 237.00,300.26 238.00,300.39 239.00,300.52 240.00,300.65 241.00,300.78 242.00,300.91 243.00,301.05 244.00,301.18 245.00,301.32 246.00,301.46 247.00,301.59 248.00,301.73 249.00,301.87 250.00,302.01 251.00,302.15 252.00,302.29 253.00,302.43 254.00,302.57 255.00,302.71 256.00,302.85 257.00,302.99 258.00,303.12 259.00,303.26 260.00,303.40 261.00,303.53 262.00,303.66 263.00,303.79 264.00,303.91 265.00,304.04 266.00,304.15 267.00,304.27 268.00,304.38 269.00,304.48 270.00,304.58 271.00,304.67 272.00,304.76 273.00,304.85 274.00,304.93 275.00,305.00 276.00,305.06 277.00,305.12 278.00,305.16 279.00,305.20 280.00,305.23 281.00,305.25 282.00,305.27 283.00,305.27 284.00,305.27 285.00,305.27 286.00,305.26 287.00,305.26 288.00,305.24 289.00,305.23 290.00,305.22 291.00,305.21 292.00,305.19 293.00,305.18 294.00,305.17 295.00,305.16 296.00,305.16 297.00,305.15 298.00,305.15 299.00,305.15 300.00,305.15 301.00,305.15 302.00,305.16 303.00,305.17 304.00,305.17 305.00,305.18 306.00,305.19 307.00,305.20 308.00,305.21 309.00,305.22 310.00,305.23 311.00,305.24 312.00,305.25 313.00,305.26 314.00,305.27 315.00,305.28 316.00,305.29 317.00,305.30 318.00,305.31 319.00,305.32 320.00,305.33 321.00,305.34 322.00,305.36 323.00,305.37 324.00,305.38 325.00,305.40 326.00,305.42 327.00,305.44 328.00,305.45 329.00,305.48 330.00,305.50 331.00,305.52 332.00,305.55 333.00,305.57 334.00,305.60 335.00,305.62 336.00,305.65 337.00,305.68 338.00,305.70 339.00,305.73 340.00,305.75 341.00,305.78 342.00,305.80 343.00,305.82 344.00,305.84 345.00,305.86 346.00,305.87 347.00,305.89 348.00,305.90 349.00,305.91 350.00,305.92 351.00,305.93 352.00,305.93 353.00,305.94 354.00,305.94 355.00,305.94 356.00,305.93 357.00,305.93 358.00,305.91 359.00,305.89 360.00,305.87 361.00,305.83 362.00,305.79 363.00,305.73 364.00,305.67 365.00,305.60 366.00,305.52 367.00,305.43 368.00,305.34 369.00,305.24 370.00,305.13 371.00,305.01 372.00,304.89 373.00,304.76 374.00,304.63 375.00,304.49 376.00,304.35 377.00,304.20 378.00,304.05 379.00,303.90 380.00,303.74 381.00,303.58 382.00,303.41 383.00,303.24 384.00,303.07 385.00,302.89 386.00,302.71 387.00,302.52 388.00,302.33 389.00,302.14 390.00,301.94 391.00,301.74 392.00,301.54 393.00,301.33 394.00,301.13 395.00,300.93 396.00,300.73 397.00,300.52 398.00,300.32 399.00,300.12 400.00,299.92 401.00,299.72 402.00,299.53 403.00,299.33 404.00,299.13 405.00,298.94 406.00,298.74 407.00,298.54 408.00,298.35 409.00,298.15 410.00,297.96 411.00,297.76 412.00,297.57 413.00,297.37 414.00,297.18 415.00,296.98 416.00,296.79 417.00,296.60 418.00,296.40 419.00,296.21 420.00,296.02 421.00,295.83 422.00,295.64 423.00,295.45 424.00,295.27 425.00,295.08 426.00,294.89 427.00,294.71 428.00,294.52 429.00,294.34 430.00,294.15 431.00,293.97 432.00,293.79 433.00,293.61 434.00,293.43 435.00,293.26 436.00,293.08 437.00,292.92 438.00,292.76 439.00,292.60 440.00,292.45 441.00,292.31 442.00,292.17 443.00,292.04 444.00,291.92 445.00,291.80 446.00,291.69 447.00,291.58 448.00,291.48 449.00,291.38 450.00,291.29 451.00,291.21 452.00,291.12 453.00,291.05 454.00,290.97 455.00,290.90 456.00,290.83 457.00,290.76 458.00,290.69 459.00,290.62 460.00,290.56 461.00,290.49 462.00,290.42 463.00,290.35 464.00,290.28 465.00,290.20 466.00,290.12 467.00,290.04 468.00,289.94 469.00,289.84 470.00,289.72 471.00,289.59 472.00,289.44 473.00,289.28 474.00,289.11 475.00,288.91 476.00,288.71 477.00,288.49 478.00,288.27 479.00,288.03 480.00,287.79 481.00,287.54 482.00,287.29 483.00,287.03 484.00,286.77 485.00,286.51 486.00,286.24 487.00,285.96 488.00,285.68 489.00,285.39 490.00,285.10 491.00,284.79 492.00,284.47 493.00,284.14 494.00,283.79 495.00,283.44 496.00,283.07 497.00,282.70 498.00,282.32 499.00,281.93 500.00,281.53 501.00,281.13 502.00,280.73 503.00,280.32 504.00,279.91 505.00,279.49 506.00,279.07 507.00,278.64 508.00,278.20 509.00,277.76 510.00,277.31 511.00,276.86 512.00,276.39 513.00,275.92 514.00,275.44 515.00,274.96 516.00,274.47 517.00,273.98 518.00,273.49 519.00,272.99 520.00,272.49 521.00,272.00 522.00,271.49 523.00,270.99 524.00,270.49 525.00,269.99 526.00,269.48 527.00,268.97 528.00,268.46 529.00,267.95 530.00,267.43 531.00,266.91 532.00,266.39 533.00,265.86 534.00,265.34 535.00,264.81 536.00,264.28 537.00,263.74 538.00,263.21 539.00,262.68 540.00,262.14 541.00,261.61 542.00,261.07 543.00,260.54 544.00,260.01 545.00,259.47 546.00,258.94 547.00,258.41 548.00,257.89 549.00,257.36 550.00,256.83 551.00,256.31 552.00,255.78 553.00,255.26 554.00,254.73 555.00,254.20 556.00,253.66 557.00,253.13 558.00,252.59 559.00,252.04 560.00,251.50 561.00,250.95 562.00,250.39 563.00,249.84 564.00,249.28 565.00,248.72 566.00,248.16 567.00,247.60 568.00,247.04 569.00,246.48 570.00,245.92 571.00,245.36 572.00,244.79 573.00,244.23 574.00,243.67 575.00,243.11 576.00,242.54 577.00,241.97 578.00,241.40 579.00,240.83 580.00,240.25 581.00,239.66 582.00,239.07 583.00,238.46 584.00,237.85 585.00,237.22 586.00,236.59 587.00,235.94 588.00,235.28 589.00,234.62 590.00,233.94 591.00,233.26 592.00,232.57 593.00,231.88 594.00,231.19 595.00,230.49 596.00,229.79 597.00,229.08 598.00,228.38 599.00,227.68 600.00,226.97 601.00,226.26 602.00,225.55 603.00,224.84 604.00,224.13 605.00,223.41 606.00,222.70 607.00,221.99 608.00,221.27 609.00,220.56 610.00,219.84 611.00,219.13 612.00,218.42 613.00,217.70 614.00,216.99 615.00,216.29 616.00,215.59 617.00,214.89 618.00,214.21 619.00,213.53 620.00,212.86 621.00,212.20 622.00,211.56 623.00,210.93 624.00,210.31 625.00,209.70 626.00,209.10 627.00,208.51 628.00,207.93 629.00,207.36 630.00,206.78 631.00,206.22 632.00,205.65 633.00,205.09 634.00,204.53 635.00,203.97 636.00,203.41 637.00,202.85 638.00,202.28 639.00,201.72 640.00,201.16 641.00,200.60 642.00,200.04 643.00,199.48 644.00,198.92 645.00,198.36 646.00,197.80 647.00,197.24 648.00,196.68 649.00,196.12 650.00,195.55 651.00,194.99 652.00,194.43 653.00,193.86 654.00,193.30 655.00,192.74 656.00,192.17 657.00,191.61 658.00,191.04 659.00,190.48 660.00,189.91 661.00,189.35 662.00,188.78" fill="none" stroke="#4079da" stroke-width="1.05" stroke-opacity="0.85"/>
<line x1="0" y1="312.75" x2="655.5" y2="61.25" stroke="#90b2c2" stroke-width="1.05"/>
<line x1="291.2" y1="303.4" x2="642.5" y2="53.25" stroke="#90b2c2" stroke-width="1.05"/>
<line x1="425.75" y1="308.6" x2="776.75" y2="58.1" stroke="#90b2c2" stroke-width="1.05"/>
<line x1="240" y1="365" x2="888" y2="116.5" stroke="#90b2c2" stroke-width="1.05"/>
<line x1="665.30" y1="102.90" x2="673.14" y2="115.97" stroke="#fb5547" stroke-width="1.1"/>
<polygon points="678.80,125.40 668.42,118.80 677.86,113.14" fill="#fb5547"/>
<line x1="678.80" y1="125.40" x2="711.34" y2="34.02" stroke="#fb5547" stroke-width="1.1"/>
<polygon points="714.70,24.60 716.53,35.87 706.16,32.18" fill="#fb5547"/>
<polyline points="6.70,455.90 11.70,455.00 16.40,460.90 19.30,455.40 21.80,464.80 25.10,465.90 28.50,468.80 31.00,469.80 33.20,473.10 35.50,450.90 38.60,455.00 41.90,453.40 43.90,451.40 46.90,441.30 49.90,443.30 52.80,450.40 55.30,443.30 57.80,429.10 62.90,434.90 66.20,435.80 71.20,425.70 73.80,426.20 77.10,422.00 82.10,428.20 85.50,432.40 88.50,440.30 91.40,441.60 93.90,436.60 96.90,438.30 99.70,437.40 104.80,429.10 107.30,434.10 109.80,432.40 113.10,425.70 116.00,425.20 118.70,431.20 124.00,429.10 127.10,432.90 129.90,429.90 132.40,429.90 135.40,427.90 137.80,434.10 140.40,434.60 143.40,441.30 146.40,432.40 149.20,431.90 151.70,420.70 155.10,423.20 160.10,422.00 163.50,418.20 166.00,414.00 168.50,404.80 171.00,419.00 173.90,409.00 176.90,412.80 179.70,414.00 182.70,420.70 184.90,428.20 187.80,422.00 192.00,429.10 196.20,436.30 201.20,431.90 204.50,431.60 207.50,434.90 210.40,429.10 212.90,429.60 215.40,427.40 217.90,435.40 221.30,433.30 223.80,428.20 226.30,427.40 229.70,422.90 234.70,419.00 237.60,418.70 240.60,414.00 245.60,432.40 248.10,435.80 251.50,442.10 254.80,434.10 257.30,429.90 259.80,431.20 265.40,424.50 268.20,425.20 270.70,432.40 276.10,415.20 278.80,423.20 281.60,419.80 284.50,418.80 287.50,411.10 290.10,409.80 293.40,404.30 298.40,404.30 301.50,415.20 303.80,409.80 306.50,413.50 309.30,411.50 312.20,412.80 316.00,428.20 320.20,440.00 323.20,433.60 328.60,432.90 331.60,426.90 334.50,428.20 337.80,426.60 340.70,426.90 342.90,428.60 345.40,437.40 347.90,419.00 350.90,431.90 353.80,430.20 356.30,424.00 359.10,421.20 361.80,416.20 364.60,417.80 367.50,406.80 370.50,396.40 373.00,406.10 375.90,402.20 379.20,404.30 381.90,403.40 384.30,400.10 386.90,410.10 389.80,409.50 392.60,420.70 395.30,421.20 398.20,426.90 400.70,423.20 403.70,426.60 406.60,419.00 409.90,418.20 413.30,416.80 414.90,414.80 417.80,406.10 420.50,411.10 423.00,405.60 425.90,421.50 428.40,410.60 431.40,419.50 434.20,418.20 436.80,423.20 439.30,421.90 445.10,424.50 447.70,427.90 450.50,425.70 453.20,427.40 456.00,431.90 458.90,429.10 461.60,448.70 464.40,437.90 467.30,442.00 469.90,440.80 472.30,436.60 475.30,423.20 477.80,416.50 480.70,408.40 483.40,411.80 486.70,410.30 489.60,411.50 492.10,406.80 494.60,397.20 497.10,398.10 500.10,394.40 503.00,393.40 507.20,403.40 511.40,411.80 514.20,407.30 516.90,409.00 519.70,401.10 522.60,411.50 525.30,408.10 528.10,409.00 531.00,410.60 533.60,406.10 536.50,404.40 539.00,402.20 542.00,409.00 544.90,407.30 547.10,408.40 549.90,417.80 552.80,412.80 555.40,403.10 558.30,402.20 561.10,411.10 564.10,409.80 565.90,407.80 569.20,404.80 571.70,404.00 574.80,407.30 577.60,406.20 580.40,405.70 583.10,402.30 586.00,404.00 588.50,401.80 591.00,399.00 594.00,392.80 599.90,388.10 602.70,395.60 604.90,399.00 607.80,406.50 610.60,412.90 613.60,411.20 616.20,405.70 619.00,404.80 622.00,417.40 625.00,429.10 627.40,415.70 630.10,430.30 632.90,427.40 635.40,434.20 638.80,428.30 643.80,419.90 646.80,423.30 649.70,424.90 652.20,422.90 655.20,419.10 658.60,419.10 661.40,418.20 664.30,416.60" fill="none" stroke="#1764d6" stroke-width="2.3" stroke-linejoin="round" stroke-linecap="round"/>
<line x1="17" y1="475.4" x2="788.2" y2="432.1" stroke="#8e3b3b" stroke-width="1"/>
<line x1="665.90" y1="416.60" x2="674.18" y2="428.16" stroke="#fb5547" stroke-width="1.1"/>
<polygon points="680.30,436.70 669.80,431.31 678.57,425.02" fill="#fb5547"/>
<line x1="680.30" y1="436.70" x2="699.53" y2="393.49" stroke="#fb5547" stroke-width="1.1"/>
<polygon points="703.80,383.90 704.46,395.69 694.60,391.30" fill="#fb5547"/>
<g>
<line x1="833.5" x2="833.5" y1="4.3" y2="507.3" stroke="#dde3e6" stroke-width="1.2"/>
<rect x="5.7" y="376.20000000000005" width="875.8" height="1.8" fill="#e8eaec"/>
<rect x="5.7" y="481.1" width="875.8" height="1.8" fill="#e6e6e8"/>
</g>
<g stroke="#dde3e6" stroke-width="1">
<line x1="833.5" x2="837.5" y1="27.4" y2="27.4"/>
<line x1="833.5" x2="837.5" y1="76.9" y2="76.9"/>
<line x1="833.5" x2="837.5" y1="126.5" y2="126.5"/>
<line x1="833.5" x2="837.5" y1="176.0" y2="176.0"/>
<line x1="833.5" x2="837.5" y1="225.6" y2="225.6"/>
<line x1="833.5" x2="837.5" y1="275.1" y2="275.1"/>
<line x1="833.5" x2="837.5" y1="324.7" y2="324.7"/>
<line x1="833.5" x2="837.5" y1="374.2" y2="374.2"/>
<line x1="833.5" x2="837.5" y1="398.5" y2="398.5"/>
<line x1="833.5" x2="837.5" y1="428.0" y2="428.0"/>
<line x1="833.5" x2="837.5" y1="457.5" y2="457.5"/>
</g>
<rect x="833.2" y="94.3" width="46.9" height="15.4" fill="#26a69a"/>
<line x1="833.5" x2="837.5" y1="102.2" y2="102.2" stroke="#fff" stroke-width="1"/>
<line x1="833" y1="137.59" x2="888" y2="116.5" stroke="#90b2c2" stroke-width="1.05"/>
<rect x="5.1" y="3.65" width="878" height="1.25" fill="#8a8a8a"/>
<rect x="5.1" y="3.65" width="1.2" height="505.3" fill="#969696"/>
<rect x="881.0" y="3.65" width="1.0" height="505.3" fill="#b6b6b6"/>
<rect x="882.0" y="3.65" width="1.1" height="505.3" fill="#8d8d8d"/>
<rect x="5.1" y="506.8" width="877" height="1.0" fill="#b6b6b6"/>
<rect x="5.1" y="507.8" width="878" height="1.2" fill="#8d8d8d"/>
</svg>
<div id="txt" style="position:absolute;left:0;top:0;width:888px;height:513px;will-change:transform;transform:translateZ(0)">
<div style="position:absolute;left:0;top:0;width:888px;height:376.9px;overflow:hidden"><div class="t ax" style="left:841.6px;top:21.7px">120.00</div><div class="t ax" style="left:841.6px;top:71.2px">110.00</div><div class="t ax" style="left:841.6px;top:120.8px">100.00</div><div class="t ax" style="left:841.6px;top:170.3px">90.00</div><div class="t ax" style="left:841.6px;top:219.9px">80.00</div><div class="t ax" style="left:841.6px;top:269.4px">70.00</div><div class="t ax" style="left:841.6px;top:319.0px">60.00</div><div class="t ax" style="left:841.6px;top:368.5px">50.00</div></div><div class="t ax" style="left:841.6px;top:392.8px">75.00</div><div class="t ax" style="left:841.6px;top:422.3px">50.00</div><div class="t ax" style="left:841.6px;top:451.8px">25.00</div><div class="t ax" style="left:842.2px;top:95.5px;color:#fff;font-weight:bold;letter-spacing:-0.45px">104.95</div><div class="rub">RUB</div><div class="t tm" style="left:91.3px;top:489.5px;">Май</div><div class="t tm" style="left:199.2px;top:489.5px;">Июл</div><div class="t tm" style="left:317.5px;top:489.5px;">Сен</div><div class="t tm" style="left:439.4px;top:489.5px;">Ноя</div><div class="t tm" style="left:556.0px;top:489.5px;font-weight:bold;letter-spacing:0;">2021</div><div class="t tm" style="left:660.8px;top:489.5px;">Мар</div><div class="t tm" style="left:782.5px;top:489.5px;">Май</div><div class="t ttl" style="left:13.6px;top:13.2px">АЛРОСА ПАО АО, 1Д, MOEX</div><div class="t leg" style="left:13.6px;top:28.5px">DEMA (75, close)</div><div class="t leg" style="left:13.6px;top:43.5px">DEMA (255, close)</div><div class="t leg" style="left:13.6px;top:385.6px;letter-spacing:-0.45px">RSI (13, close)</div>
</div>
</body></html>
